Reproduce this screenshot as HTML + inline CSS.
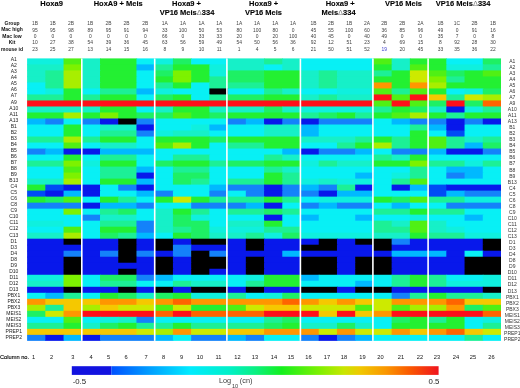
<!DOCTYPE html>
<html><head><meta charset="utf-8"><title>Heatmap</title><style>html,body{margin:0;padding:0;background:#fff;}body{width:520px;height:388px;overflow:hidden;position:relative;font-family:"Liberation Sans",sans-serif;}</style></head><body>
<svg width="520" height="388" viewBox="0 0 520 388" style="position:absolute;left:0;top:0;will-change:transform">
<rect x="0" y="0" width="520" height="388" fill="#ffffff"/>
<rect x="27.10" y="58.40" width="37.15" height="6.71" fill="#0ff0de"/>
<rect x="63.55" y="58.40" width="18.93" height="6.71" fill="#50f014"/>
<rect x="81.78" y="58.40" width="18.93" height="6.71" fill="#16f0c8"/>
<rect x="100.01" y="58.40" width="37.15" height="6.71" fill="#23f032"/>
<rect x="136.46" y="58.40" width="18.93" height="6.71" fill="#08f0f5"/>
<rect x="154.69" y="58.40" width="18.93" height="6.71" fill="#0ff0de"/>
<rect x="172.92" y="58.40" width="18.93" height="6.71" fill="#1ef064"/>
<rect x="191.14" y="58.40" width="37.15" height="6.71" fill="#08f0f5"/>
<rect x="227.60" y="58.40" width="37.15" height="6.71" fill="#16f0c8"/>
<rect x="264.05" y="58.40" width="18.93" height="6.71" fill="#1cf096"/>
<rect x="282.28" y="58.40" width="18.93" height="6.71" fill="#16f0c8"/>
<rect x="300.50" y="58.40" width="73.61" height="6.71" fill="#08f0f5"/>
<rect x="373.41" y="58.40" width="18.93" height="6.71" fill="#50f014"/>
<rect x="391.64" y="58.40" width="18.93" height="6.71" fill="#16f0c8"/>
<rect x="409.87" y="58.40" width="37.15" height="6.71" fill="#23f032"/>
<rect x="446.32" y="58.40" width="37.15" height="6.71" fill="#08f0f5"/>
<rect x="482.77" y="58.40" width="18.23" height="6.71" fill="#1ef064"/>
<rect x="27.10" y="64.41" width="37.15" height="6.71" fill="#16f0c8"/>
<rect x="63.55" y="64.41" width="18.93" height="6.71" fill="#7df200"/>
<rect x="81.78" y="64.41" width="18.93" height="6.71" fill="#16f0c8"/>
<rect x="100.01" y="64.41" width="37.15" height="6.71" fill="#23f032"/>
<rect x="136.46" y="64.41" width="18.93" height="6.71" fill="#00b9ff"/>
<rect x="154.69" y="64.41" width="18.93" height="6.71" fill="#1cf096"/>
<rect x="172.92" y="64.41" width="37.15" height="6.71" fill="#23f032"/>
<rect x="209.37" y="64.41" width="18.93" height="6.71" fill="#0ff0de"/>
<rect x="227.60" y="64.41" width="37.15" height="6.71" fill="#16f0c8"/>
<rect x="264.05" y="64.41" width="18.93" height="6.71" fill="#08f0f5"/>
<rect x="282.28" y="64.41" width="18.93" height="6.71" fill="#16f0c8"/>
<rect x="300.50" y="64.41" width="73.61" height="6.71" fill="#08f0f5"/>
<rect x="373.41" y="64.41" width="18.93" height="6.71" fill="#23f032"/>
<rect x="391.64" y="64.41" width="18.93" height="6.71" fill="#16f0c8"/>
<rect x="409.87" y="64.41" width="18.93" height="6.71" fill="#50f014"/>
<rect x="428.09" y="64.41" width="18.93" height="6.71" fill="#23f032"/>
<rect x="446.32" y="64.41" width="37.15" height="6.71" fill="#0ff0de"/>
<rect x="482.77" y="64.41" width="18.23" height="6.71" fill="#1cf096"/>
<rect x="27.10" y="70.42" width="18.93" height="6.71" fill="#16f0c8"/>
<rect x="45.33" y="70.42" width="18.93" height="6.71" fill="#1cf096"/>
<rect x="63.55" y="70.42" width="18.93" height="6.71" fill="#a8ee00"/>
<rect x="81.78" y="70.42" width="18.93" height="6.71" fill="#16f0c8"/>
<rect x="100.01" y="70.42" width="37.15" height="6.71" fill="#23f032"/>
<rect x="136.46" y="70.42" width="18.93" height="6.71" fill="#08f0f5"/>
<rect x="154.69" y="70.42" width="18.93" height="6.71" fill="#1ef064"/>
<rect x="172.92" y="70.42" width="18.93" height="6.71" fill="#7df200"/>
<rect x="191.14" y="70.42" width="18.93" height="6.71" fill="#23f032"/>
<rect x="209.37" y="70.42" width="18.93" height="6.71" fill="#0ff0de"/>
<rect x="227.60" y="70.42" width="37.15" height="6.71" fill="#1ef064"/>
<rect x="264.05" y="70.42" width="37.15" height="6.71" fill="#23f032"/>
<rect x="300.50" y="70.42" width="18.93" height="6.71" fill="#16f0c8"/>
<rect x="318.73" y="70.42" width="18.93" height="6.71" fill="#1cf096"/>
<rect x="336.96" y="70.42" width="37.15" height="6.71" fill="#16f0c8"/>
<rect x="373.41" y="70.42" width="18.93" height="6.71" fill="#1cf096"/>
<rect x="391.64" y="70.42" width="18.93" height="6.71" fill="#23f032"/>
<rect x="409.87" y="70.42" width="18.93" height="6.71" fill="#cdea00"/>
<rect x="428.09" y="70.42" width="18.93" height="6.71" fill="#50f014"/>
<rect x="446.32" y="70.42" width="18.93" height="6.71" fill="#1ef064"/>
<rect x="464.55" y="70.42" width="18.93" height="6.71" fill="#23f032"/>
<rect x="482.77" y="70.42" width="18.23" height="6.71" fill="#50f014"/>
<rect x="27.10" y="76.43" width="18.93" height="6.71" fill="#16f0c8"/>
<rect x="45.33" y="76.43" width="18.93" height="6.71" fill="#1cf096"/>
<rect x="63.55" y="76.43" width="18.93" height="6.71" fill="#a8ee00"/>
<rect x="81.78" y="76.43" width="18.93" height="6.71" fill="#16f0c8"/>
<rect x="100.01" y="76.43" width="37.15" height="6.71" fill="#23f032"/>
<rect x="136.46" y="76.43" width="18.93" height="6.71" fill="#08f0f5"/>
<rect x="154.69" y="76.43" width="18.93" height="6.71" fill="#23f032"/>
<rect x="172.92" y="76.43" width="18.93" height="6.71" fill="#7df200"/>
<rect x="191.14" y="76.43" width="18.93" height="6.71" fill="#23f032"/>
<rect x="209.37" y="76.43" width="18.93" height="6.71" fill="#1cf096"/>
<rect x="227.60" y="76.43" width="37.15" height="6.71" fill="#1ef064"/>
<rect x="264.05" y="76.43" width="37.15" height="6.71" fill="#23f032"/>
<rect x="300.50" y="76.43" width="18.93" height="6.71" fill="#16f0c8"/>
<rect x="318.73" y="76.43" width="18.93" height="6.71" fill="#1cf096"/>
<rect x="336.96" y="76.43" width="37.15" height="6.71" fill="#16f0c8"/>
<rect x="373.41" y="76.43" width="37.15" height="6.71" fill="#23f032"/>
<rect x="409.87" y="76.43" width="18.93" height="6.71" fill="#cdea00"/>
<rect x="428.09" y="76.43" width="18.93" height="6.71" fill="#7df200"/>
<rect x="446.32" y="76.43" width="18.93" height="6.71" fill="#1cf096"/>
<rect x="464.55" y="76.43" width="36.45" height="6.71" fill="#23f032"/>
<rect x="27.10" y="82.44" width="18.93" height="6.71" fill="#08f0f5"/>
<rect x="45.33" y="82.44" width="18.93" height="6.71" fill="#1cf096"/>
<rect x="63.55" y="82.44" width="18.93" height="6.71" fill="#a8ee00"/>
<rect x="81.78" y="82.44" width="18.93" height="6.71" fill="#16f0c8"/>
<rect x="100.01" y="82.44" width="37.15" height="6.71" fill="#23f032"/>
<rect x="136.46" y="82.44" width="18.93" height="6.71" fill="#08f0f5"/>
<rect x="154.69" y="82.44" width="18.93" height="6.71" fill="#1cf096"/>
<rect x="172.92" y="82.44" width="18.93" height="6.71" fill="#23f032"/>
<rect x="191.14" y="82.44" width="18.93" height="6.71" fill="#08f0f5"/>
<rect x="209.37" y="82.44" width="55.38" height="6.71" fill="#1cf096"/>
<rect x="264.05" y="82.44" width="37.15" height="6.71" fill="#23f032"/>
<rect x="300.50" y="82.44" width="18.93" height="6.71" fill="#16f0c8"/>
<rect x="318.73" y="82.44" width="18.93" height="6.71" fill="#1cf096"/>
<rect x="336.96" y="82.44" width="37.15" height="6.71" fill="#16f0c8"/>
<rect x="373.41" y="82.44" width="18.93" height="6.71" fill="#ff9600"/>
<rect x="391.64" y="82.44" width="18.93" height="6.71" fill="#23f032"/>
<rect x="409.87" y="82.44" width="18.93" height="6.71" fill="#ff9600"/>
<rect x="428.09" y="82.44" width="18.93" height="6.71" fill="#a8ee00"/>
<rect x="446.32" y="82.44" width="54.68" height="6.71" fill="#23f032"/>
<rect x="27.10" y="88.45" width="18.93" height="6.71" fill="#08f0f5"/>
<rect x="45.33" y="88.45" width="18.93" height="6.71" fill="#0ff0de"/>
<rect x="63.55" y="88.45" width="18.93" height="6.71" fill="#23f032"/>
<rect x="81.78" y="88.45" width="18.93" height="6.71" fill="#08f0f5"/>
<rect x="100.01" y="88.45" width="37.15" height="6.71" fill="#1cf096"/>
<rect x="136.46" y="88.45" width="18.93" height="6.71" fill="#00b9ff"/>
<rect x="154.69" y="88.45" width="18.93" height="6.71" fill="#0ff0de"/>
<rect x="172.92" y="88.45" width="37.15" height="6.71" fill="#08f0f5"/>
<rect x="209.37" y="88.45" width="18.93" height="6.71" fill="#000000"/>
<rect x="227.60" y="88.45" width="37.15" height="6.71" fill="#08f0f5"/>
<rect x="264.05" y="88.45" width="18.93" height="6.71" fill="#1cf096"/>
<rect x="282.28" y="88.45" width="18.93" height="6.71" fill="#16f0c8"/>
<rect x="300.50" y="88.45" width="37.15" height="6.71" fill="#08f0f5"/>
<rect x="336.96" y="88.45" width="37.15" height="6.71" fill="#0ff0de"/>
<rect x="373.41" y="88.45" width="18.93" height="6.71" fill="#50f014"/>
<rect x="391.64" y="88.45" width="18.93" height="6.71" fill="#1cf096"/>
<rect x="409.87" y="88.45" width="18.93" height="6.71" fill="#50f014"/>
<rect x="428.09" y="88.45" width="18.93" height="6.71" fill="#23f032"/>
<rect x="446.32" y="88.45" width="18.93" height="6.71" fill="#08f0f5"/>
<rect x="464.55" y="88.45" width="18.93" height="6.71" fill="#0ff0de"/>
<rect x="482.77" y="88.45" width="18.23" height="6.71" fill="#1ef064"/>
<rect x="27.10" y="94.46" width="37.15" height="6.71" fill="#1cf096"/>
<rect x="63.55" y="94.46" width="18.93" height="6.71" fill="#23f032"/>
<rect x="81.78" y="94.46" width="18.93" height="6.71" fill="#1cf096"/>
<rect x="100.01" y="94.46" width="37.15" height="6.71" fill="#23f032"/>
<rect x="136.46" y="94.46" width="18.93" height="6.71" fill="#08f0f5"/>
<rect x="154.69" y="94.46" width="18.93" height="6.71" fill="#1ef064"/>
<rect x="172.92" y="94.46" width="18.93" height="6.71" fill="#23f032"/>
<rect x="191.14" y="94.46" width="18.93" height="6.71" fill="#08f0f5"/>
<rect x="209.37" y="94.46" width="18.93" height="6.71" fill="#1cf096"/>
<rect x="227.60" y="94.46" width="37.15" height="6.71" fill="#1ef064"/>
<rect x="264.05" y="94.46" width="37.15" height="6.71" fill="#23f032"/>
<rect x="300.50" y="94.46" width="18.93" height="6.71" fill="#16f0c8"/>
<rect x="318.73" y="94.46" width="18.93" height="6.71" fill="#1cf096"/>
<rect x="336.96" y="94.46" width="37.15" height="6.71" fill="#16f0c8"/>
<rect x="373.41" y="94.46" width="18.93" height="6.71" fill="#ff0f19"/>
<rect x="391.64" y="94.46" width="18.93" height="6.71" fill="#50f014"/>
<rect x="409.87" y="94.46" width="18.93" height="6.71" fill="#ff0f19"/>
<rect x="428.09" y="94.46" width="18.93" height="6.71" fill="#f5c800"/>
<rect x="446.32" y="94.46" width="18.93" height="6.71" fill="#1cf096"/>
<rect x="464.55" y="94.46" width="18.93" height="6.71" fill="#cdea00"/>
<rect x="482.77" y="94.46" width="18.23" height="6.71" fill="#a8ee00"/>
<rect x="27.10" y="100.47" width="347.01" height="6.71" fill="#ff0f19"/>
<rect x="373.41" y="100.47" width="18.93" height="6.71" fill="#50f014"/>
<rect x="391.64" y="100.47" width="18.93" height="6.71" fill="#ff0f19"/>
<rect x="409.87" y="100.47" width="18.93" height="6.71" fill="#50f014"/>
<rect x="428.09" y="100.47" width="18.93" height="6.71" fill="#1ef064"/>
<rect x="446.32" y="100.47" width="18.93" height="6.71" fill="#ff0f19"/>
<rect x="464.55" y="100.47" width="18.93" height="6.71" fill="#1ef064"/>
<rect x="482.77" y="100.47" width="18.23" height="6.71" fill="#ff6400"/>
<rect x="27.10" y="106.48" width="73.61" height="6.71" fill="#16f0c8"/>
<rect x="100.01" y="106.48" width="37.15" height="6.71" fill="#23f032"/>
<rect x="136.46" y="106.48" width="18.93" height="6.71" fill="#08f0f5"/>
<rect x="154.69" y="106.48" width="18.93" height="6.71" fill="#16f0c8"/>
<rect x="172.92" y="106.48" width="37.15" height="6.71" fill="#23f032"/>
<rect x="209.37" y="106.48" width="55.38" height="6.71" fill="#16f0c8"/>
<rect x="264.05" y="106.48" width="18.93" height="6.71" fill="#1ef064"/>
<rect x="282.28" y="106.48" width="18.93" height="6.71" fill="#16f0c8"/>
<rect x="300.50" y="106.48" width="73.61" height="6.71" fill="#0ff0de"/>
<rect x="373.41" y="106.48" width="18.93" height="6.71" fill="#1cf096"/>
<rect x="391.64" y="106.48" width="18.93" height="6.71" fill="#23f032"/>
<rect x="409.87" y="106.48" width="18.93" height="6.71" fill="#1ef064"/>
<rect x="428.09" y="106.48" width="18.93" height="6.71" fill="#16f0c8"/>
<rect x="446.32" y="106.48" width="18.93" height="6.71" fill="#0818eb"/>
<rect x="464.55" y="106.48" width="18.93" height="6.71" fill="#0ff0de"/>
<rect x="482.77" y="106.48" width="18.23" height="6.71" fill="#1cf096"/>
<rect x="27.10" y="112.49" width="37.15" height="6.71" fill="#23f032"/>
<rect x="63.55" y="112.49" width="18.93" height="6.71" fill="#a8ee00"/>
<rect x="81.78" y="112.49" width="18.93" height="6.71" fill="#23f032"/>
<rect x="100.01" y="112.49" width="18.93" height="6.71" fill="#7df200"/>
<rect x="118.23" y="112.49" width="18.93" height="6.71" fill="#23f032"/>
<rect x="136.46" y="112.49" width="37.15" height="6.71" fill="#1ef064"/>
<rect x="172.92" y="112.49" width="18.93" height="6.71" fill="#50f014"/>
<rect x="191.14" y="112.49" width="18.93" height="6.71" fill="#23f032"/>
<rect x="209.37" y="112.49" width="18.93" height="6.71" fill="#1ef064"/>
<rect x="227.60" y="112.49" width="73.61" height="6.71" fill="#23f032"/>
<rect x="300.50" y="112.49" width="18.93" height="6.71" fill="#1cf096"/>
<rect x="318.73" y="112.49" width="18.93" height="6.71" fill="#1ef064"/>
<rect x="336.96" y="112.49" width="18.93" height="6.71" fill="#23f032"/>
<rect x="355.18" y="112.49" width="18.93" height="6.71" fill="#1cf096"/>
<rect x="373.41" y="112.49" width="18.93" height="6.71" fill="#23f032"/>
<rect x="391.64" y="112.49" width="18.93" height="6.71" fill="#50f014"/>
<rect x="409.87" y="112.49" width="18.93" height="6.71" fill="#a8ee00"/>
<rect x="428.09" y="112.49" width="18.93" height="6.71" fill="#23f032"/>
<rect x="446.32" y="112.49" width="18.93" height="6.71" fill="#1cf096"/>
<rect x="464.55" y="112.49" width="36.45" height="6.71" fill="#23f032"/>
<rect x="27.10" y="118.50" width="18.93" height="6.71" fill="#00b9ff"/>
<rect x="45.33" y="118.50" width="18.93" height="6.71" fill="#1482fa"/>
<rect x="63.55" y="118.50" width="18.93" height="6.71" fill="#08f0f5"/>
<rect x="81.78" y="118.50" width="18.93" height="6.71" fill="#1482fa"/>
<rect x="100.01" y="118.50" width="18.93" height="6.71" fill="#0818eb"/>
<rect x="118.23" y="118.50" width="18.93" height="6.71" fill="#000000"/>
<rect x="136.46" y="118.50" width="18.93" height="6.71" fill="#1482fa"/>
<rect x="154.69" y="118.50" width="73.61" height="6.71" fill="#08f0f5"/>
<rect x="227.60" y="118.50" width="18.93" height="6.71" fill="#1482fa"/>
<rect x="245.82" y="118.50" width="18.93" height="6.71" fill="#00b9ff"/>
<rect x="264.05" y="118.50" width="18.93" height="6.71" fill="#0818eb"/>
<rect x="282.28" y="118.50" width="18.93" height="6.71" fill="#1482fa"/>
<rect x="300.50" y="118.50" width="18.93" height="6.71" fill="#0818eb"/>
<rect x="318.73" y="118.50" width="55.38" height="6.71" fill="#1482fa"/>
<rect x="373.41" y="118.50" width="18.93" height="6.71" fill="#08f0f5"/>
<rect x="391.64" y="118.50" width="18.93" height="6.71" fill="#00b9ff"/>
<rect x="409.87" y="118.50" width="37.15" height="6.71" fill="#1482fa"/>
<rect x="446.32" y="118.50" width="18.93" height="6.71" fill="#0818eb"/>
<rect x="464.55" y="118.50" width="18.93" height="6.71" fill="#1482fa"/>
<rect x="482.77" y="118.50" width="18.23" height="6.71" fill="#0818eb"/>
<rect x="27.10" y="124.51" width="37.15" height="6.71" fill="#08f0f5"/>
<rect x="63.55" y="124.51" width="18.93" height="6.71" fill="#23f032"/>
<rect x="81.78" y="124.51" width="18.93" height="6.71" fill="#08f0f5"/>
<rect x="100.01" y="124.51" width="37.15" height="6.71" fill="#16f0c8"/>
<rect x="136.46" y="124.51" width="18.93" height="6.71" fill="#0818eb"/>
<rect x="154.69" y="124.51" width="37.15" height="6.71" fill="#08f0f5"/>
<rect x="191.14" y="124.51" width="18.93" height="6.71" fill="#0ff0de"/>
<rect x="209.37" y="124.51" width="18.93" height="6.71" fill="#00b9ff"/>
<rect x="227.60" y="124.51" width="37.15" height="6.71" fill="#08f0f5"/>
<rect x="264.05" y="124.51" width="37.15" height="6.71" fill="#16f0c8"/>
<rect x="300.50" y="124.51" width="18.93" height="6.71" fill="#00b9ff"/>
<rect x="318.73" y="124.51" width="91.83" height="6.71" fill="#08f0f5"/>
<rect x="409.87" y="124.51" width="18.93" height="6.71" fill="#1cf096"/>
<rect x="428.09" y="124.51" width="18.93" height="6.71" fill="#00b9ff"/>
<rect x="446.32" y="124.51" width="18.93" height="6.71" fill="#0818eb"/>
<rect x="464.55" y="124.51" width="36.45" height="6.71" fill="#08f0f5"/>
<rect x="27.10" y="130.52" width="37.15" height="6.71" fill="#08f0f5"/>
<rect x="63.55" y="130.52" width="18.93" height="6.71" fill="#23f032"/>
<rect x="81.78" y="130.52" width="18.93" height="6.71" fill="#08f0f5"/>
<rect x="100.01" y="130.52" width="37.15" height="6.71" fill="#1cf096"/>
<rect x="136.46" y="130.52" width="18.93" height="6.71" fill="#1482fa"/>
<rect x="154.69" y="130.52" width="18.93" height="6.71" fill="#0ff0de"/>
<rect x="172.92" y="130.52" width="37.15" height="6.71" fill="#16f0c8"/>
<rect x="209.37" y="130.52" width="55.38" height="6.71" fill="#08f0f5"/>
<rect x="264.05" y="130.52" width="37.15" height="6.71" fill="#16f0c8"/>
<rect x="300.50" y="130.52" width="18.93" height="6.71" fill="#00b9ff"/>
<rect x="318.73" y="130.52" width="91.83" height="6.71" fill="#08f0f5"/>
<rect x="409.87" y="130.52" width="18.93" height="6.71" fill="#23f032"/>
<rect x="428.09" y="130.52" width="18.93" height="6.71" fill="#08f0f5"/>
<rect x="446.32" y="130.52" width="18.93" height="6.71" fill="#004bf5"/>
<rect x="464.55" y="130.52" width="36.45" height="6.71" fill="#08f0f5"/>
<rect x="27.10" y="136.53" width="37.15" height="6.71" fill="#1cf096"/>
<rect x="63.55" y="136.53" width="18.93" height="6.71" fill="#a8ee00"/>
<rect x="81.78" y="136.53" width="18.93" height="6.71" fill="#1cf096"/>
<rect x="100.01" y="136.53" width="37.15" height="6.71" fill="#23f032"/>
<rect x="136.46" y="136.53" width="18.93" height="6.71" fill="#08f0f5"/>
<rect x="154.69" y="136.53" width="55.38" height="6.71" fill="#23f032"/>
<rect x="209.37" y="136.53" width="18.93" height="6.71" fill="#1ef064"/>
<rect x="227.60" y="136.53" width="73.61" height="6.71" fill="#23f032"/>
<rect x="300.50" y="136.53" width="55.38" height="6.71" fill="#16f0c8"/>
<rect x="355.18" y="136.53" width="18.93" height="6.71" fill="#1cf096"/>
<rect x="373.41" y="136.53" width="18.93" height="6.71" fill="#23f032"/>
<rect x="391.64" y="136.53" width="18.93" height="6.71" fill="#1cf096"/>
<rect x="409.87" y="136.53" width="18.93" height="6.71" fill="#23f032"/>
<rect x="428.09" y="136.53" width="18.93" height="6.71" fill="#50f014"/>
<rect x="446.32" y="136.53" width="18.93" height="6.71" fill="#1cf096"/>
<rect x="464.55" y="136.53" width="18.93" height="6.71" fill="#16f0c8"/>
<rect x="482.77" y="136.53" width="18.23" height="6.71" fill="#1cf096"/>
<rect x="27.10" y="142.54" width="37.15" height="6.71" fill="#08f0f5"/>
<rect x="63.55" y="142.54" width="18.93" height="6.71" fill="#50f014"/>
<rect x="81.78" y="142.54" width="18.93" height="6.71" fill="#08f0f5"/>
<rect x="100.01" y="142.54" width="37.15" height="6.71" fill="#16f0c8"/>
<rect x="136.46" y="142.54" width="18.93" height="6.71" fill="#08f0f5"/>
<rect x="154.69" y="142.54" width="18.93" height="6.71" fill="#50f014"/>
<rect x="172.92" y="142.54" width="18.93" height="6.71" fill="#a8ee00"/>
<rect x="191.14" y="142.54" width="18.93" height="6.71" fill="#23f032"/>
<rect x="209.37" y="142.54" width="18.93" height="6.71" fill="#08f0f5"/>
<rect x="227.60" y="142.54" width="37.15" height="6.71" fill="#1cf096"/>
<rect x="264.05" y="142.54" width="37.15" height="6.71" fill="#23f032"/>
<rect x="300.50" y="142.54" width="37.15" height="6.71" fill="#08f0f5"/>
<rect x="336.96" y="142.54" width="18.93" height="6.71" fill="#1cf096"/>
<rect x="355.18" y="142.54" width="18.93" height="6.71" fill="#23f032"/>
<rect x="373.41" y="142.54" width="18.93" height="6.71" fill="#a8ee00"/>
<rect x="391.64" y="142.54" width="18.93" height="6.71" fill="#1cf096"/>
<rect x="409.87" y="142.54" width="18.93" height="6.71" fill="#23f032"/>
<rect x="428.09" y="142.54" width="18.93" height="6.71" fill="#50f014"/>
<rect x="446.32" y="142.54" width="18.93" height="6.71" fill="#1cf096"/>
<rect x="464.55" y="142.54" width="18.93" height="6.71" fill="#00b9ff"/>
<rect x="482.77" y="142.54" width="18.23" height="6.71" fill="#1ef064"/>
<rect x="27.10" y="148.55" width="18.93" height="6.71" fill="#1482fa"/>
<rect x="45.33" y="148.55" width="18.93" height="6.71" fill="#00b9ff"/>
<rect x="63.55" y="148.55" width="37.15" height="6.71" fill="#0818eb"/>
<rect x="100.01" y="148.55" width="55.38" height="6.71" fill="#00b9ff"/>
<rect x="154.69" y="148.55" width="128.29" height="6.71" fill="#08f0f5"/>
<rect x="282.28" y="148.55" width="18.93" height="6.71" fill="#00b9ff"/>
<rect x="300.50" y="148.55" width="18.93" height="6.71" fill="#0818eb"/>
<rect x="318.73" y="148.55" width="37.15" height="6.71" fill="#1482fa"/>
<rect x="355.18" y="148.55" width="18.93" height="6.71" fill="#00b9ff"/>
<rect x="373.41" y="148.55" width="18.93" height="6.71" fill="#08f0f5"/>
<rect x="391.64" y="148.55" width="37.15" height="6.71" fill="#1482fa"/>
<rect x="428.09" y="148.55" width="18.93" height="6.71" fill="#00b9ff"/>
<rect x="446.32" y="148.55" width="37.15" height="6.71" fill="#0818eb"/>
<rect x="482.77" y="148.55" width="18.23" height="6.71" fill="#1482fa"/>
<rect x="27.10" y="154.56" width="37.15" height="6.71" fill="#08f0f5"/>
<rect x="63.55" y="154.56" width="18.93" height="6.71" fill="#23f032"/>
<rect x="81.78" y="154.56" width="18.93" height="6.71" fill="#08f0f5"/>
<rect x="100.01" y="154.56" width="37.15" height="6.71" fill="#1cf096"/>
<rect x="136.46" y="154.56" width="37.15" height="6.71" fill="#08f0f5"/>
<rect x="172.92" y="154.56" width="37.15" height="6.71" fill="#1cf096"/>
<rect x="209.37" y="154.56" width="55.38" height="6.71" fill="#08f0f5"/>
<rect x="264.05" y="154.56" width="18.93" height="6.71" fill="#1cf096"/>
<rect x="282.28" y="154.56" width="18.93" height="6.71" fill="#16f0c8"/>
<rect x="300.50" y="154.56" width="73.61" height="6.71" fill="#08f0f5"/>
<rect x="373.41" y="154.56" width="18.93" height="6.71" fill="#1cf096"/>
<rect x="391.64" y="154.56" width="18.93" height="6.71" fill="#16f0c8"/>
<rect x="409.87" y="154.56" width="18.93" height="6.71" fill="#23f032"/>
<rect x="428.09" y="154.56" width="72.91" height="6.71" fill="#08f0f5"/>
<rect x="27.10" y="160.57" width="37.15" height="6.71" fill="#1cf096"/>
<rect x="63.55" y="160.57" width="18.93" height="6.71" fill="#7df200"/>
<rect x="81.78" y="160.57" width="18.93" height="6.71" fill="#0ff0de"/>
<rect x="100.01" y="160.57" width="37.15" height="6.71" fill="#23f032"/>
<rect x="136.46" y="160.57" width="18.93" height="6.71" fill="#08f0f5"/>
<rect x="154.69" y="160.57" width="18.93" height="6.71" fill="#1ef064"/>
<rect x="172.92" y="160.57" width="37.15" height="6.71" fill="#23f032"/>
<rect x="209.37" y="160.57" width="18.93" height="6.71" fill="#1cf096"/>
<rect x="227.60" y="160.57" width="37.15" height="6.71" fill="#1ef064"/>
<rect x="264.05" y="160.57" width="37.15" height="6.71" fill="#23f032"/>
<rect x="300.50" y="160.57" width="18.93" height="6.71" fill="#0ff0de"/>
<rect x="318.73" y="160.57" width="18.93" height="6.71" fill="#1cf096"/>
<rect x="336.96" y="160.57" width="37.15" height="6.71" fill="#16f0c8"/>
<rect x="373.41" y="160.57" width="37.15" height="6.71" fill="#23f032"/>
<rect x="409.87" y="160.57" width="18.93" height="6.71" fill="#7df200"/>
<rect x="428.09" y="160.57" width="37.15" height="6.71" fill="#1cf096"/>
<rect x="464.55" y="160.57" width="18.93" height="6.71" fill="#0ff0de"/>
<rect x="482.77" y="160.57" width="18.23" height="6.71" fill="#1cf096"/>
<rect x="27.10" y="166.58" width="37.15" height="6.71" fill="#08f0f5"/>
<rect x="63.55" y="166.58" width="18.93" height="6.71" fill="#50f014"/>
<rect x="81.78" y="166.58" width="18.93" height="6.71" fill="#08f0f5"/>
<rect x="100.01" y="166.58" width="37.15" height="6.71" fill="#1cf096"/>
<rect x="136.46" y="166.58" width="18.93" height="6.71" fill="#00b9ff"/>
<rect x="154.69" y="166.58" width="18.93" height="6.71" fill="#08f0f5"/>
<rect x="172.92" y="166.58" width="37.15" height="6.71" fill="#1cf096"/>
<rect x="209.37" y="166.58" width="55.38" height="6.71" fill="#08f0f5"/>
<rect x="264.05" y="166.58" width="18.93" height="6.71" fill="#1cf096"/>
<rect x="282.28" y="166.58" width="18.93" height="6.71" fill="#16f0c8"/>
<rect x="300.50" y="166.58" width="110.06" height="6.71" fill="#08f0f5"/>
<rect x="409.87" y="166.58" width="18.93" height="6.71" fill="#1cf096"/>
<rect x="428.09" y="166.58" width="18.93" height="6.71" fill="#08f0f5"/>
<rect x="446.32" y="166.58" width="37.15" height="6.71" fill="#00b9ff"/>
<rect x="482.77" y="166.58" width="18.23" height="6.71" fill="#08f0f5"/>
<rect x="27.10" y="172.59" width="37.15" height="6.71" fill="#08f0f5"/>
<rect x="63.55" y="172.59" width="18.93" height="6.71" fill="#7df200"/>
<rect x="81.78" y="172.59" width="18.93" height="6.71" fill="#08f0f5"/>
<rect x="100.01" y="172.59" width="37.15" height="6.71" fill="#1cf096"/>
<rect x="136.46" y="172.59" width="18.93" height="6.71" fill="#0818eb"/>
<rect x="154.69" y="172.59" width="18.93" height="6.71" fill="#08f0f5"/>
<rect x="172.92" y="172.59" width="37.15" height="6.71" fill="#1ef064"/>
<rect x="209.37" y="172.59" width="55.38" height="6.71" fill="#08f0f5"/>
<rect x="264.05" y="172.59" width="18.93" height="6.71" fill="#23f032"/>
<rect x="282.28" y="172.59" width="18.93" height="6.71" fill="#1cf096"/>
<rect x="300.50" y="172.59" width="55.38" height="6.71" fill="#08f0f5"/>
<rect x="355.18" y="172.59" width="18.93" height="6.71" fill="#00b9ff"/>
<rect x="373.41" y="172.59" width="18.93" height="6.71" fill="#08f0f5"/>
<rect x="391.64" y="172.59" width="18.93" height="6.71" fill="#0ff0de"/>
<rect x="409.87" y="172.59" width="18.93" height="6.71" fill="#1cf096"/>
<rect x="428.09" y="172.59" width="18.93" height="6.71" fill="#08f0f5"/>
<rect x="446.32" y="172.59" width="18.93" height="6.71" fill="#1482fa"/>
<rect x="464.55" y="172.59" width="18.93" height="6.71" fill="#00b9ff"/>
<rect x="482.77" y="172.59" width="18.23" height="6.71" fill="#08f0f5"/>
<rect x="27.10" y="178.60" width="37.15" height="6.71" fill="#16f0c8"/>
<rect x="63.55" y="178.60" width="18.93" height="6.71" fill="#a8ee00"/>
<rect x="81.78" y="178.60" width="18.93" height="6.71" fill="#08f0f5"/>
<rect x="100.01" y="178.60" width="37.15" height="6.71" fill="#23f032"/>
<rect x="136.46" y="178.60" width="18.93" height="6.71" fill="#00b9ff"/>
<rect x="154.69" y="178.60" width="18.93" height="6.71" fill="#08f0f5"/>
<rect x="172.92" y="178.60" width="18.93" height="6.71" fill="#1ef064"/>
<rect x="191.14" y="178.60" width="18.93" height="6.71" fill="#1cf096"/>
<rect x="209.37" y="178.60" width="18.93" height="6.71" fill="#08f0f5"/>
<rect x="227.60" y="178.60" width="37.15" height="6.71" fill="#1cf096"/>
<rect x="264.05" y="178.60" width="18.93" height="6.71" fill="#23f032"/>
<rect x="282.28" y="178.60" width="18.93" height="6.71" fill="#1cf096"/>
<rect x="300.50" y="178.60" width="18.93" height="6.71" fill="#0ff0de"/>
<rect x="318.73" y="178.60" width="18.93" height="6.71" fill="#16f0c8"/>
<rect x="336.96" y="178.60" width="37.15" height="6.71" fill="#0ff0de"/>
<rect x="373.41" y="178.60" width="18.93" height="6.71" fill="#08f0f5"/>
<rect x="391.64" y="178.60" width="18.93" height="6.71" fill="#1cf096"/>
<rect x="409.87" y="178.60" width="18.93" height="6.71" fill="#50f014"/>
<rect x="428.09" y="178.60" width="72.91" height="6.71" fill="#08f0f5"/>
<rect x="27.10" y="184.61" width="18.93" height="6.71" fill="#23f032"/>
<rect x="45.33" y="184.61" width="18.93" height="6.71" fill="#004bf5"/>
<rect x="63.55" y="184.61" width="37.15" height="6.71" fill="#0818eb"/>
<rect x="100.01" y="184.61" width="18.93" height="6.71" fill="#08f0f5"/>
<rect x="118.23" y="184.61" width="18.93" height="6.71" fill="#1482fa"/>
<rect x="136.46" y="184.61" width="18.93" height="6.71" fill="#0818eb"/>
<rect x="154.69" y="184.61" width="55.38" height="6.71" fill="#08f0f5"/>
<rect x="209.37" y="184.61" width="18.93" height="6.71" fill="#00b9ff"/>
<rect x="227.60" y="184.61" width="37.15" height="6.71" fill="#1482fa"/>
<rect x="264.05" y="184.61" width="18.93" height="6.71" fill="#0818eb"/>
<rect x="282.28" y="184.61" width="18.93" height="6.71" fill="#1482fa"/>
<rect x="300.50" y="184.61" width="18.93" height="6.71" fill="#00b9ff"/>
<rect x="318.73" y="184.61" width="18.93" height="6.71" fill="#1482fa"/>
<rect x="336.96" y="184.61" width="18.93" height="6.71" fill="#1cf096"/>
<rect x="355.18" y="184.61" width="18.93" height="6.71" fill="#0818eb"/>
<rect x="373.41" y="184.61" width="18.93" height="6.71" fill="#08f0f5"/>
<rect x="391.64" y="184.61" width="18.93" height="6.71" fill="#0818eb"/>
<rect x="409.87" y="184.61" width="18.93" height="6.71" fill="#00b9ff"/>
<rect x="428.09" y="184.61" width="18.93" height="6.71" fill="#004bf5"/>
<rect x="446.32" y="184.61" width="54.68" height="6.71" fill="#0818eb"/>
<rect x="27.10" y="190.62" width="18.93" height="6.71" fill="#004bf5"/>
<rect x="45.33" y="190.62" width="18.93" height="6.71" fill="#0818eb"/>
<rect x="63.55" y="190.62" width="18.93" height="6.71" fill="#00b9ff"/>
<rect x="81.78" y="190.62" width="18.93" height="6.71" fill="#0818eb"/>
<rect x="100.01" y="190.62" width="37.15" height="6.71" fill="#08f0f5"/>
<rect x="136.46" y="190.62" width="18.93" height="6.71" fill="#00b9ff"/>
<rect x="154.69" y="190.62" width="18.93" height="6.71" fill="#1482fa"/>
<rect x="172.92" y="190.62" width="37.15" height="6.71" fill="#08f0f5"/>
<rect x="209.37" y="190.62" width="18.93" height="6.71" fill="#1482fa"/>
<rect x="227.60" y="190.62" width="18.93" height="6.71" fill="#08f0f5"/>
<rect x="245.82" y="190.62" width="18.93" height="6.71" fill="#1482fa"/>
<rect x="264.05" y="190.62" width="18.93" height="6.71" fill="#0818eb"/>
<rect x="282.28" y="190.62" width="37.15" height="6.71" fill="#1482fa"/>
<rect x="318.73" y="190.62" width="18.93" height="6.71" fill="#0818eb"/>
<rect x="336.96" y="190.62" width="37.15" height="6.71" fill="#00b9ff"/>
<rect x="373.41" y="190.62" width="55.38" height="6.71" fill="#08f0f5"/>
<rect x="428.09" y="190.62" width="18.93" height="6.71" fill="#004bf5"/>
<rect x="446.32" y="190.62" width="18.93" height="6.71" fill="#00b9ff"/>
<rect x="464.55" y="190.62" width="36.45" height="6.71" fill="#1482fa"/>
<rect x="27.10" y="196.63" width="18.93" height="6.71" fill="#23f032"/>
<rect x="45.33" y="196.63" width="18.93" height="6.71" fill="#1ef064"/>
<rect x="63.55" y="196.63" width="18.93" height="6.71" fill="#50f014"/>
<rect x="81.78" y="196.63" width="18.93" height="6.71" fill="#08f0f5"/>
<rect x="100.01" y="196.63" width="18.93" height="6.71" fill="#23f032"/>
<rect x="118.23" y="196.63" width="18.93" height="6.71" fill="#1cf096"/>
<rect x="136.46" y="196.63" width="18.93" height="6.71" fill="#08f0f5"/>
<rect x="154.69" y="196.63" width="18.93" height="6.71" fill="#23f032"/>
<rect x="172.92" y="196.63" width="18.93" height="6.71" fill="#cdea00"/>
<rect x="191.14" y="196.63" width="18.93" height="6.71" fill="#23f032"/>
<rect x="209.37" y="196.63" width="55.38" height="6.71" fill="#1cf096"/>
<rect x="264.05" y="196.63" width="18.93" height="6.71" fill="#23f032"/>
<rect x="282.28" y="196.63" width="18.93" height="6.71" fill="#1cf096"/>
<rect x="300.50" y="196.63" width="18.93" height="6.71" fill="#08f0f5"/>
<rect x="318.73" y="196.63" width="55.38" height="6.71" fill="#0ff0de"/>
<rect x="373.41" y="196.63" width="18.93" height="6.71" fill="#23f032"/>
<rect x="391.64" y="196.63" width="18.93" height="6.71" fill="#1ef064"/>
<rect x="409.87" y="196.63" width="18.93" height="6.71" fill="#50f014"/>
<rect x="428.09" y="196.63" width="37.15" height="6.71" fill="#1cf096"/>
<rect x="464.55" y="196.63" width="36.45" height="6.71" fill="#0ff0de"/>
<rect x="27.10" y="202.64" width="55.38" height="6.71" fill="#1482fa"/>
<rect x="81.78" y="202.64" width="18.93" height="6.71" fill="#0818eb"/>
<rect x="100.01" y="202.64" width="37.15" height="6.71" fill="#00b9ff"/>
<rect x="136.46" y="202.64" width="18.93" height="6.71" fill="#1482fa"/>
<rect x="154.69" y="202.64" width="37.15" height="6.71" fill="#08f0f5"/>
<rect x="191.14" y="202.64" width="55.38" height="6.71" fill="#1482fa"/>
<rect x="245.82" y="202.64" width="18.93" height="6.71" fill="#00b9ff"/>
<rect x="264.05" y="202.64" width="18.93" height="6.71" fill="#0818eb"/>
<rect x="282.28" y="202.64" width="18.93" height="6.71" fill="#08f0f5"/>
<rect x="300.50" y="202.64" width="18.93" height="6.71" fill="#1482fa"/>
<rect x="318.73" y="202.64" width="18.93" height="6.71" fill="#00b9ff"/>
<rect x="336.96" y="202.64" width="37.15" height="6.71" fill="#1482fa"/>
<rect x="373.41" y="202.64" width="18.93" height="6.71" fill="#08f0f5"/>
<rect x="391.64" y="202.64" width="18.93" height="6.71" fill="#00b9ff"/>
<rect x="409.87" y="202.64" width="37.15" height="6.71" fill="#08f0f5"/>
<rect x="446.32" y="202.64" width="54.68" height="6.71" fill="#1482fa"/>
<rect x="27.10" y="208.65" width="37.15" height="6.71" fill="#08f0f5"/>
<rect x="63.55" y="208.65" width="18.93" height="6.71" fill="#7df200"/>
<rect x="81.78" y="208.65" width="18.93" height="6.71" fill="#08f0f5"/>
<rect x="100.01" y="208.65" width="18.93" height="6.71" fill="#1cf096"/>
<rect x="118.23" y="208.65" width="18.93" height="6.71" fill="#1ef064"/>
<rect x="136.46" y="208.65" width="18.93" height="6.71" fill="#08f0f5"/>
<rect x="154.69" y="208.65" width="18.93" height="6.71" fill="#16f0c8"/>
<rect x="172.92" y="208.65" width="18.93" height="6.71" fill="#23f032"/>
<rect x="191.14" y="208.65" width="18.93" height="6.71" fill="#1cf096"/>
<rect x="209.37" y="208.65" width="18.93" height="6.71" fill="#08f0f5"/>
<rect x="227.60" y="208.65" width="37.15" height="6.71" fill="#1cf096"/>
<rect x="264.05" y="208.65" width="18.93" height="6.71" fill="#1ef064"/>
<rect x="282.28" y="208.65" width="18.93" height="6.71" fill="#1cf096"/>
<rect x="300.50" y="208.65" width="73.61" height="6.71" fill="#08f0f5"/>
<rect x="373.41" y="208.65" width="37.15" height="6.71" fill="#1cf096"/>
<rect x="409.87" y="208.65" width="18.93" height="6.71" fill="#23f032"/>
<rect x="428.09" y="208.65" width="37.15" height="6.71" fill="#1cf096"/>
<rect x="464.55" y="208.65" width="36.45" height="6.71" fill="#08f0f5"/>
<rect x="27.10" y="214.66" width="55.38" height="6.71" fill="#08f0f5"/>
<rect x="81.78" y="214.66" width="18.93" height="6.71" fill="#1482fa"/>
<rect x="100.01" y="214.66" width="37.15" height="6.71" fill="#16f0c8"/>
<rect x="136.46" y="214.66" width="18.93" height="6.71" fill="#08f0f5"/>
<rect x="154.69" y="214.66" width="18.93" height="6.71" fill="#16f0c8"/>
<rect x="172.92" y="214.66" width="18.93" height="6.71" fill="#1ef064"/>
<rect x="191.14" y="214.66" width="18.93" height="6.71" fill="#0ff0de"/>
<rect x="209.37" y="214.66" width="55.38" height="6.71" fill="#08f0f5"/>
<rect x="264.05" y="214.66" width="18.93" height="6.71" fill="#0818eb"/>
<rect x="282.28" y="214.66" width="18.93" height="6.71" fill="#08f0f5"/>
<rect x="300.50" y="214.66" width="18.93" height="6.71" fill="#00b9ff"/>
<rect x="318.73" y="214.66" width="37.15" height="6.71" fill="#08f0f5"/>
<rect x="355.18" y="214.66" width="18.93" height="6.71" fill="#00b9ff"/>
<rect x="373.41" y="214.66" width="37.15" height="6.71" fill="#08f0f5"/>
<rect x="409.87" y="214.66" width="18.93" height="6.71" fill="#0ff0de"/>
<rect x="428.09" y="214.66" width="37.15" height="6.71" fill="#08f0f5"/>
<rect x="464.55" y="214.66" width="18.93" height="6.71" fill="#00b9ff"/>
<rect x="482.77" y="214.66" width="18.23" height="6.71" fill="#08f0f5"/>
<rect x="27.10" y="220.67" width="37.15" height="6.71" fill="#0ff0de"/>
<rect x="63.55" y="220.67" width="37.15" height="6.71" fill="#08f0f5"/>
<rect x="100.01" y="220.67" width="37.15" height="6.71" fill="#1cf096"/>
<rect x="136.46" y="220.67" width="18.93" height="6.71" fill="#1482fa"/>
<rect x="154.69" y="220.67" width="18.93" height="6.71" fill="#16f0c8"/>
<rect x="172.92" y="220.67" width="37.15" height="6.71" fill="#1ef064"/>
<rect x="209.37" y="220.67" width="18.93" height="6.71" fill="#08f0f5"/>
<rect x="227.60" y="220.67" width="37.15" height="6.71" fill="#16f0c8"/>
<rect x="264.05" y="220.67" width="18.93" height="6.71" fill="#23f032"/>
<rect x="282.28" y="220.67" width="91.83" height="6.71" fill="#08f0f5"/>
<rect x="373.41" y="220.67" width="18.93" height="6.71" fill="#1cf096"/>
<rect x="391.64" y="220.67" width="18.93" height="6.71" fill="#16f0c8"/>
<rect x="409.87" y="220.67" width="18.93" height="6.71" fill="#50f014"/>
<rect x="428.09" y="220.67" width="18.93" height="6.71" fill="#16f0c8"/>
<rect x="446.32" y="220.67" width="54.68" height="6.71" fill="#08f0f5"/>
<rect x="27.10" y="226.68" width="37.15" height="6.71" fill="#08f0f5"/>
<rect x="63.55" y="226.68" width="18.93" height="6.71" fill="#50f014"/>
<rect x="81.78" y="226.68" width="18.93" height="6.71" fill="#08f0f5"/>
<rect x="100.01" y="226.68" width="37.15" height="6.71" fill="#23f032"/>
<rect x="136.46" y="226.68" width="18.93" height="6.71" fill="#1482fa"/>
<rect x="154.69" y="226.68" width="18.93" height="6.71" fill="#16f0c8"/>
<rect x="172.92" y="226.68" width="18.93" height="6.71" fill="#1cf096"/>
<rect x="191.14" y="226.68" width="18.93" height="6.71" fill="#1ef064"/>
<rect x="209.37" y="226.68" width="55.38" height="6.71" fill="#0ff0de"/>
<rect x="264.05" y="226.68" width="37.15" height="6.71" fill="#1cf096"/>
<rect x="300.50" y="226.68" width="73.61" height="6.71" fill="#08f0f5"/>
<rect x="373.41" y="226.68" width="37.15" height="6.71" fill="#1cf096"/>
<rect x="409.87" y="226.68" width="18.93" height="6.71" fill="#50f014"/>
<rect x="428.09" y="226.68" width="18.93" height="6.71" fill="#16f0c8"/>
<rect x="446.32" y="226.68" width="18.93" height="6.71" fill="#0ff0de"/>
<rect x="464.55" y="226.68" width="36.45" height="6.71" fill="#08f0f5"/>
<rect x="27.10" y="232.69" width="37.15" height="6.71" fill="#16f0c8"/>
<rect x="63.55" y="232.69" width="18.93" height="6.71" fill="#a8ee00"/>
<rect x="81.78" y="232.69" width="18.93" height="6.71" fill="#08f0f5"/>
<rect x="100.01" y="232.69" width="18.93" height="6.71" fill="#1ef064"/>
<rect x="118.23" y="232.69" width="18.93" height="6.71" fill="#1cf096"/>
<rect x="136.46" y="232.69" width="18.93" height="6.71" fill="#00b9ff"/>
<rect x="154.69" y="232.69" width="18.93" height="6.71" fill="#08f0f5"/>
<rect x="172.92" y="232.69" width="18.93" height="6.71" fill="#23f032"/>
<rect x="191.14" y="232.69" width="18.93" height="6.71" fill="#1ef064"/>
<rect x="209.37" y="232.69" width="37.15" height="6.71" fill="#16f0c8"/>
<rect x="245.82" y="232.69" width="18.93" height="6.71" fill="#1cf096"/>
<rect x="264.05" y="232.69" width="18.93" height="6.71" fill="#0ff0de"/>
<rect x="282.28" y="232.69" width="18.93" height="6.71" fill="#1ef064"/>
<rect x="300.50" y="232.69" width="73.61" height="6.71" fill="#0ff0de"/>
<rect x="373.41" y="232.69" width="37.15" height="6.71" fill="#16f0c8"/>
<rect x="409.87" y="232.69" width="18.93" height="6.71" fill="#23f032"/>
<rect x="428.09" y="232.69" width="37.15" height="6.71" fill="#1cf096"/>
<rect x="464.55" y="232.69" width="36.45" height="6.71" fill="#0ff0de"/>
<rect x="27.10" y="238.70" width="37.15" height="6.71" fill="#0818eb"/>
<rect x="63.55" y="238.70" width="18.93" height="6.71" fill="#000000"/>
<rect x="81.78" y="238.70" width="37.15" height="6.71" fill="#0818eb"/>
<rect x="118.23" y="238.70" width="18.93" height="6.71" fill="#000000"/>
<rect x="136.46" y="238.70" width="18.93" height="6.71" fill="#0818eb"/>
<rect x="154.69" y="238.70" width="18.93" height="6.71" fill="#000000"/>
<rect x="172.92" y="238.70" width="18.93" height="6.71" fill="#0818eb"/>
<rect x="191.14" y="238.70" width="37.15" height="6.71" fill="#000000"/>
<rect x="227.60" y="238.70" width="18.93" height="6.71" fill="#0818eb"/>
<rect x="245.82" y="238.70" width="18.93" height="6.71" fill="#000000"/>
<rect x="264.05" y="238.70" width="55.38" height="6.71" fill="#0818eb"/>
<rect x="318.73" y="238.70" width="18.93" height="6.71" fill="#000000"/>
<rect x="336.96" y="238.70" width="18.93" height="6.71" fill="#0818eb"/>
<rect x="355.18" y="238.70" width="37.15" height="6.71" fill="#000000"/>
<rect x="391.64" y="238.70" width="18.93" height="6.71" fill="#1482fa"/>
<rect x="409.87" y="238.70" width="73.61" height="6.71" fill="#0818eb"/>
<rect x="482.77" y="238.70" width="18.23" height="6.71" fill="#000000"/>
<rect x="27.10" y="244.71" width="91.83" height="6.71" fill="#0818eb"/>
<rect x="118.23" y="244.71" width="18.93" height="6.71" fill="#000000"/>
<rect x="136.46" y="244.71" width="18.93" height="6.71" fill="#0818eb"/>
<rect x="154.69" y="244.71" width="18.93" height="6.71" fill="#000000"/>
<rect x="172.92" y="244.71" width="18.93" height="6.71" fill="#1482fa"/>
<rect x="191.14" y="244.71" width="55.38" height="6.71" fill="#0818eb"/>
<rect x="245.82" y="244.71" width="18.93" height="6.71" fill="#000000"/>
<rect x="264.05" y="244.71" width="37.15" height="6.71" fill="#0818eb"/>
<rect x="300.50" y="244.71" width="37.15" height="6.71" fill="#000000"/>
<rect x="336.96" y="244.71" width="37.15" height="6.71" fill="#0818eb"/>
<rect x="373.41" y="244.71" width="18.93" height="6.71" fill="#000000"/>
<rect x="391.64" y="244.71" width="91.83" height="6.71" fill="#0818eb"/>
<rect x="482.77" y="244.71" width="18.23" height="6.71" fill="#000000"/>
<rect x="27.10" y="250.72" width="37.15" height="6.71" fill="#0818eb"/>
<rect x="63.55" y="250.72" width="18.93" height="6.71" fill="#1482fa"/>
<rect x="81.78" y="250.72" width="18.93" height="6.71" fill="#0818eb"/>
<rect x="100.01" y="250.72" width="18.93" height="6.71" fill="#1482fa"/>
<rect x="118.23" y="250.72" width="18.93" height="6.71" fill="#000000"/>
<rect x="136.46" y="250.72" width="18.93" height="6.71" fill="#1482fa"/>
<rect x="154.69" y="250.72" width="18.93" height="6.71" fill="#0818eb"/>
<rect x="172.92" y="250.72" width="18.93" height="6.71" fill="#1482fa"/>
<rect x="191.14" y="250.72" width="18.93" height="6.71" fill="#000000"/>
<rect x="209.37" y="250.72" width="18.93" height="6.71" fill="#1482fa"/>
<rect x="227.60" y="250.72" width="55.38" height="6.71" fill="#0818eb"/>
<rect x="282.28" y="250.72" width="18.93" height="6.71" fill="#00b9ff"/>
<rect x="300.50" y="250.72" width="91.83" height="6.71" fill="#0818eb"/>
<rect x="391.64" y="250.72" width="55.38" height="6.71" fill="#00b9ff"/>
<rect x="446.32" y="250.72" width="18.93" height="6.71" fill="#0818eb"/>
<rect x="464.55" y="250.72" width="18.93" height="6.71" fill="#08f0f5"/>
<rect x="482.77" y="250.72" width="18.23" height="6.71" fill="#0818eb"/>
<rect x="27.10" y="256.73" width="37.15" height="6.71" fill="#0818eb"/>
<rect x="63.55" y="256.73" width="18.93" height="6.71" fill="#000000"/>
<rect x="81.78" y="256.73" width="37.15" height="6.71" fill="#0818eb"/>
<rect x="118.23" y="256.73" width="18.93" height="6.71" fill="#000000"/>
<rect x="136.46" y="256.73" width="18.93" height="6.71" fill="#0818eb"/>
<rect x="154.69" y="256.73" width="18.93" height="6.71" fill="#000000"/>
<rect x="172.92" y="256.73" width="18.93" height="6.71" fill="#0818eb"/>
<rect x="191.14" y="256.73" width="37.15" height="6.71" fill="#000000"/>
<rect x="227.60" y="256.73" width="18.93" height="6.71" fill="#0818eb"/>
<rect x="245.82" y="256.73" width="18.93" height="6.71" fill="#000000"/>
<rect x="264.05" y="256.73" width="37.15" height="6.71" fill="#0818eb"/>
<rect x="300.50" y="256.73" width="37.15" height="6.71" fill="#000000"/>
<rect x="336.96" y="256.73" width="18.93" height="6.71" fill="#0818eb"/>
<rect x="355.18" y="256.73" width="37.15" height="6.71" fill="#000000"/>
<rect x="391.64" y="256.73" width="73.61" height="6.71" fill="#0818eb"/>
<rect x="464.55" y="256.73" width="36.45" height="6.71" fill="#000000"/>
<rect x="27.10" y="262.74" width="37.15" height="6.71" fill="#0818eb"/>
<rect x="63.55" y="262.74" width="18.93" height="6.71" fill="#000000"/>
<rect x="81.78" y="262.74" width="73.61" height="6.71" fill="#0818eb"/>
<rect x="154.69" y="262.74" width="18.93" height="6.71" fill="#000000"/>
<rect x="172.92" y="262.74" width="18.93" height="6.71" fill="#0818eb"/>
<rect x="191.14" y="262.74" width="37.15" height="6.71" fill="#000000"/>
<rect x="227.60" y="262.74" width="18.93" height="6.71" fill="#0818eb"/>
<rect x="245.82" y="262.74" width="18.93" height="6.71" fill="#000000"/>
<rect x="264.05" y="262.74" width="37.15" height="6.71" fill="#0818eb"/>
<rect x="300.50" y="262.74" width="37.15" height="6.71" fill="#000000"/>
<rect x="336.96" y="262.74" width="18.93" height="6.71" fill="#0818eb"/>
<rect x="355.18" y="262.74" width="37.15" height="6.71" fill="#000000"/>
<rect x="391.64" y="262.74" width="73.61" height="6.71" fill="#0818eb"/>
<rect x="464.55" y="262.74" width="36.45" height="6.71" fill="#000000"/>
<rect x="27.10" y="268.75" width="37.15" height="6.71" fill="#0818eb"/>
<rect x="63.55" y="268.75" width="18.93" height="6.71" fill="#000000"/>
<rect x="81.78" y="268.75" width="37.15" height="6.71" fill="#0818eb"/>
<rect x="118.23" y="268.75" width="18.93" height="6.71" fill="#000000"/>
<rect x="136.46" y="268.75" width="18.93" height="6.71" fill="#0818eb"/>
<rect x="154.69" y="268.75" width="18.93" height="6.71" fill="#000000"/>
<rect x="172.92" y="268.75" width="18.93" height="6.71" fill="#0818eb"/>
<rect x="191.14" y="268.75" width="18.93" height="6.71" fill="#000000"/>
<rect x="209.37" y="268.75" width="37.15" height="6.71" fill="#0818eb"/>
<rect x="245.82" y="268.75" width="18.93" height="6.71" fill="#000000"/>
<rect x="264.05" y="268.75" width="37.15" height="6.71" fill="#0818eb"/>
<rect x="300.50" y="268.75" width="37.15" height="6.71" fill="#000000"/>
<rect x="336.96" y="268.75" width="18.93" height="6.71" fill="#0818eb"/>
<rect x="355.18" y="268.75" width="37.15" height="6.71" fill="#000000"/>
<rect x="391.64" y="268.75" width="73.61" height="6.71" fill="#0818eb"/>
<rect x="464.55" y="268.75" width="36.45" height="6.71" fill="#000000"/>
<rect x="27.10" y="274.76" width="37.15" height="6.71" fill="#0ff0de"/>
<rect x="63.55" y="274.76" width="18.93" height="6.71" fill="#7df200"/>
<rect x="81.78" y="274.76" width="18.93" height="6.71" fill="#08f0f5"/>
<rect x="100.01" y="274.76" width="37.15" height="6.71" fill="#1ef064"/>
<rect x="136.46" y="274.76" width="18.93" height="6.71" fill="#1482fa"/>
<rect x="154.69" y="274.76" width="18.93" height="6.71" fill="#00b9ff"/>
<rect x="172.92" y="274.76" width="73.61" height="6.71" fill="#08f0f5"/>
<rect x="245.82" y="274.76" width="18.93" height="6.71" fill="#0ff0de"/>
<rect x="264.05" y="274.76" width="37.15" height="6.71" fill="#23f032"/>
<rect x="300.50" y="274.76" width="18.93" height="6.71" fill="#00b9ff"/>
<rect x="318.73" y="274.76" width="73.61" height="6.71" fill="#08f0f5"/>
<rect x="391.64" y="274.76" width="18.93" height="6.71" fill="#1cf096"/>
<rect x="409.87" y="274.76" width="18.93" height="6.71" fill="#23f032"/>
<rect x="428.09" y="274.76" width="18.93" height="6.71" fill="#1cf096"/>
<rect x="446.32" y="274.76" width="37.15" height="6.71" fill="#08f0f5"/>
<rect x="482.77" y="274.76" width="18.23" height="6.71" fill="#0ff0de"/>
<rect x="27.10" y="280.77" width="37.15" height="6.71" fill="#16f0c8"/>
<rect x="63.55" y="280.77" width="18.93" height="6.71" fill="#7df200"/>
<rect x="81.78" y="280.77" width="18.93" height="6.71" fill="#08f0f5"/>
<rect x="100.01" y="280.77" width="37.15" height="6.71" fill="#1cf096"/>
<rect x="136.46" y="280.77" width="37.15" height="6.71" fill="#08f0f5"/>
<rect x="172.92" y="280.77" width="18.93" height="6.71" fill="#1cf096"/>
<rect x="191.14" y="280.77" width="37.15" height="6.71" fill="#16f0c8"/>
<rect x="227.60" y="280.77" width="18.93" height="6.71" fill="#08f0f5"/>
<rect x="245.82" y="280.77" width="18.93" height="6.71" fill="#1cf096"/>
<rect x="264.05" y="280.77" width="37.15" height="6.71" fill="#23f032"/>
<rect x="300.50" y="280.77" width="55.38" height="6.71" fill="#08f0f5"/>
<rect x="355.18" y="280.77" width="18.93" height="6.71" fill="#00b9ff"/>
<rect x="373.41" y="280.77" width="18.93" height="6.71" fill="#08f0f5"/>
<rect x="391.64" y="280.77" width="18.93" height="6.71" fill="#1cf096"/>
<rect x="409.87" y="280.77" width="18.93" height="6.71" fill="#23f032"/>
<rect x="428.09" y="280.77" width="18.93" height="6.71" fill="#1cf096"/>
<rect x="446.32" y="280.77" width="54.68" height="6.71" fill="#0ff0de"/>
<rect x="27.10" y="286.78" width="37.15" height="6.71" fill="#0818eb"/>
<rect x="63.55" y="286.78" width="18.93" height="6.71" fill="#000000"/>
<rect x="81.78" y="286.78" width="37.15" height="6.71" fill="#0818eb"/>
<rect x="118.23" y="286.78" width="18.93" height="6.71" fill="#000000"/>
<rect x="136.46" y="286.78" width="18.93" height="6.71" fill="#0818eb"/>
<rect x="154.69" y="286.78" width="18.93" height="6.71" fill="#000000"/>
<rect x="172.92" y="286.78" width="18.93" height="6.71" fill="#0818eb"/>
<rect x="191.14" y="286.78" width="37.15" height="6.71" fill="#000000"/>
<rect x="227.60" y="286.78" width="18.93" height="6.71" fill="#0818eb"/>
<rect x="245.82" y="286.78" width="18.93" height="6.71" fill="#000000"/>
<rect x="264.05" y="286.78" width="37.15" height="6.71" fill="#0818eb"/>
<rect x="300.50" y="286.78" width="37.15" height="6.71" fill="#000000"/>
<rect x="336.96" y="286.78" width="18.93" height="6.71" fill="#0818eb"/>
<rect x="355.18" y="286.78" width="37.15" height="6.71" fill="#000000"/>
<rect x="391.64" y="286.78" width="91.83" height="6.71" fill="#0818eb"/>
<rect x="482.77" y="286.78" width="18.23" height="6.71" fill="#000000"/>
<rect x="27.10" y="292.79" width="18.93" height="6.71" fill="#08f0f5"/>
<rect x="45.33" y="292.79" width="18.93" height="6.71" fill="#00b9ff"/>
<rect x="63.55" y="292.79" width="18.93" height="6.71" fill="#1cf096"/>
<rect x="81.78" y="292.79" width="18.93" height="6.71" fill="#08f0f5"/>
<rect x="100.01" y="292.79" width="18.93" height="6.71" fill="#23f032"/>
<rect x="118.23" y="292.79" width="18.93" height="6.71" fill="#1ef064"/>
<rect x="136.46" y="292.79" width="18.93" height="6.71" fill="#16f0c8"/>
<rect x="154.69" y="292.79" width="18.93" height="6.71" fill="#1ef064"/>
<rect x="172.92" y="292.79" width="18.93" height="6.71" fill="#23f032"/>
<rect x="191.14" y="292.79" width="37.15" height="6.71" fill="#0ff0de"/>
<rect x="227.60" y="292.79" width="18.93" height="6.71" fill="#1cf096"/>
<rect x="245.82" y="292.79" width="18.93" height="6.71" fill="#08f0f5"/>
<rect x="264.05" y="292.79" width="18.93" height="6.71" fill="#0ff0de"/>
<rect x="282.28" y="292.79" width="18.93" height="6.71" fill="#1ef064"/>
<rect x="300.50" y="292.79" width="91.83" height="6.71" fill="#08f0f5"/>
<rect x="391.64" y="292.79" width="18.93" height="6.71" fill="#1482fa"/>
<rect x="409.87" y="292.79" width="18.93" height="6.71" fill="#1cf096"/>
<rect x="428.09" y="292.79" width="18.93" height="6.71" fill="#23f032"/>
<rect x="446.32" y="292.79" width="37.15" height="6.71" fill="#1cf096"/>
<rect x="482.77" y="292.79" width="18.23" height="6.71" fill="#16f0c8"/>
<rect x="27.10" y="298.80" width="18.93" height="6.71" fill="#ff9600"/>
<rect x="45.33" y="298.80" width="55.38" height="6.71" fill="#f5c800"/>
<rect x="100.01" y="298.80" width="37.15" height="6.71" fill="#ff9600"/>
<rect x="136.46" y="298.80" width="18.93" height="6.71" fill="#f5c800"/>
<rect x="154.69" y="298.80" width="18.93" height="6.71" fill="#ff9600"/>
<rect x="172.92" y="298.80" width="18.93" height="6.71" fill="#ff6400"/>
<rect x="191.14" y="298.80" width="91.83" height="6.71" fill="#ff9600"/>
<rect x="282.28" y="298.80" width="18.93" height="6.71" fill="#ff6400"/>
<rect x="300.50" y="298.80" width="18.93" height="6.71" fill="#ff9600"/>
<rect x="318.73" y="298.80" width="18.93" height="6.71" fill="#f5c800"/>
<rect x="336.96" y="298.80" width="18.93" height="6.71" fill="#ff9600"/>
<rect x="355.18" y="298.80" width="18.93" height="6.71" fill="#f5c800"/>
<rect x="373.41" y="298.80" width="18.93" height="6.71" fill="#cdea00"/>
<rect x="391.64" y="298.80" width="55.38" height="6.71" fill="#ff9600"/>
<rect x="446.32" y="298.80" width="18.93" height="6.71" fill="#ff6400"/>
<rect x="464.55" y="298.80" width="36.45" height="6.71" fill="#f5c800"/>
<rect x="27.10" y="304.81" width="18.93" height="6.71" fill="#a8ee00"/>
<rect x="45.33" y="304.81" width="18.93" height="6.71" fill="#1cf096"/>
<rect x="63.55" y="304.81" width="18.93" height="6.71" fill="#f5c800"/>
<rect x="81.78" y="304.81" width="18.93" height="6.71" fill="#a8ee00"/>
<rect x="100.01" y="304.81" width="18.93" height="6.71" fill="#f5c800"/>
<rect x="118.23" y="304.81" width="37.15" height="6.71" fill="#cdea00"/>
<rect x="154.69" y="304.81" width="18.93" height="6.71" fill="#50f014"/>
<rect x="172.92" y="304.81" width="18.93" height="6.71" fill="#cdea00"/>
<rect x="191.14" y="304.81" width="37.15" height="6.71" fill="#23f032"/>
<rect x="227.60" y="304.81" width="18.93" height="6.71" fill="#50f014"/>
<rect x="245.82" y="304.81" width="18.93" height="6.71" fill="#cdea00"/>
<rect x="264.05" y="304.81" width="37.15" height="6.71" fill="#f5c800"/>
<rect x="300.50" y="304.81" width="55.38" height="6.71" fill="#cdea00"/>
<rect x="355.18" y="304.81" width="18.93" height="6.71" fill="#50f014"/>
<rect x="373.41" y="304.81" width="18.93" height="6.71" fill="#cdea00"/>
<rect x="391.64" y="304.81" width="18.93" height="6.71" fill="#50f014"/>
<rect x="409.87" y="304.81" width="37.15" height="6.71" fill="#a8ee00"/>
<rect x="446.32" y="304.81" width="18.93" height="6.71" fill="#ff9600"/>
<rect x="464.55" y="304.81" width="18.93" height="6.71" fill="#1ef064"/>
<rect x="482.77" y="304.81" width="18.23" height="6.71" fill="#50f014"/>
<rect x="27.10" y="310.82" width="18.93" height="6.71" fill="#1ef064"/>
<rect x="45.33" y="310.82" width="18.93" height="6.71" fill="#cdea00"/>
<rect x="63.55" y="310.82" width="18.93" height="6.71" fill="#ff9600"/>
<rect x="81.78" y="310.82" width="73.61" height="6.71" fill="#ff0f19"/>
<rect x="154.69" y="310.82" width="18.93" height="6.71" fill="#ff6400"/>
<rect x="172.92" y="310.82" width="18.93" height="6.71" fill="#ff0f19"/>
<rect x="191.14" y="310.82" width="73.61" height="6.71" fill="#ff6400"/>
<rect x="264.05" y="310.82" width="55.38" height="6.71" fill="#ff0f19"/>
<rect x="318.73" y="310.82" width="18.93" height="6.71" fill="#f5c800"/>
<rect x="336.96" y="310.82" width="18.93" height="6.71" fill="#ff0f19"/>
<rect x="355.18" y="310.82" width="18.93" height="6.71" fill="#f5c800"/>
<rect x="373.41" y="310.82" width="18.93" height="6.71" fill="#ff9600"/>
<rect x="391.64" y="310.82" width="91.83" height="6.71" fill="#ff0f19"/>
<rect x="482.77" y="310.82" width="18.23" height="6.71" fill="#ff6400"/>
<rect x="27.10" y="316.83" width="37.15" height="6.71" fill="#08f0f5"/>
<rect x="63.55" y="316.83" width="18.93" height="6.71" fill="#50f014"/>
<rect x="81.78" y="316.83" width="18.93" height="6.71" fill="#08f0f5"/>
<rect x="100.01" y="316.83" width="18.93" height="6.71" fill="#0ff0de"/>
<rect x="118.23" y="316.83" width="18.93" height="6.71" fill="#16f0c8"/>
<rect x="136.46" y="316.83" width="18.93" height="6.71" fill="#1482fa"/>
<rect x="154.69" y="316.83" width="110.06" height="6.71" fill="#08f0f5"/>
<rect x="264.05" y="316.83" width="18.93" height="6.71" fill="#1cf096"/>
<rect x="282.28" y="316.83" width="18.93" height="6.71" fill="#1ef064"/>
<rect x="300.50" y="316.83" width="91.83" height="6.71" fill="#08f0f5"/>
<rect x="391.64" y="316.83" width="18.93" height="6.71" fill="#1ef064"/>
<rect x="409.87" y="316.83" width="18.93" height="6.71" fill="#23f032"/>
<rect x="428.09" y="316.83" width="18.93" height="6.71" fill="#1cf096"/>
<rect x="446.32" y="316.83" width="18.93" height="6.71" fill="#23f032"/>
<rect x="464.55" y="316.83" width="18.93" height="6.71" fill="#08f0f5"/>
<rect x="482.77" y="316.83" width="18.23" height="6.71" fill="#0ff0de"/>
<rect x="27.10" y="322.84" width="37.15" height="6.71" fill="#1cf096"/>
<rect x="63.55" y="322.84" width="18.93" height="6.71" fill="#23f032"/>
<rect x="81.78" y="322.84" width="18.93" height="6.71" fill="#16f0c8"/>
<rect x="100.01" y="322.84" width="18.93" height="6.71" fill="#1ef064"/>
<rect x="118.23" y="322.84" width="18.93" height="6.71" fill="#23f032"/>
<rect x="136.46" y="322.84" width="37.15" height="6.71" fill="#1cf096"/>
<rect x="172.92" y="322.84" width="18.93" height="6.71" fill="#23f032"/>
<rect x="191.14" y="322.84" width="73.61" height="6.71" fill="#1cf096"/>
<rect x="264.05" y="322.84" width="18.93" height="6.71" fill="#1ef064"/>
<rect x="282.28" y="322.84" width="18.93" height="6.71" fill="#23f032"/>
<rect x="300.50" y="322.84" width="37.15" height="6.71" fill="#16f0c8"/>
<rect x="336.96" y="322.84" width="18.93" height="6.71" fill="#1ef064"/>
<rect x="355.18" y="322.84" width="18.93" height="6.71" fill="#16f0c8"/>
<rect x="373.41" y="322.84" width="18.93" height="6.71" fill="#08f0f5"/>
<rect x="391.64" y="322.84" width="73.61" height="6.71" fill="#23f032"/>
<rect x="464.55" y="322.84" width="18.93" height="6.71" fill="#08f0f5"/>
<rect x="482.77" y="322.84" width="18.23" height="6.71" fill="#1cf096"/>
<rect x="27.10" y="328.85" width="110.06" height="6.71" fill="#f5c800"/>
<rect x="136.46" y="328.85" width="18.93" height="6.71" fill="#cdea00"/>
<rect x="154.69" y="328.85" width="18.93" height="6.71" fill="#a8ee00"/>
<rect x="172.92" y="328.85" width="18.93" height="6.71" fill="#ff9600"/>
<rect x="191.14" y="328.85" width="37.15" height="6.71" fill="#cdea00"/>
<rect x="227.60" y="328.85" width="37.15" height="6.71" fill="#f5c800"/>
<rect x="264.05" y="328.85" width="55.38" height="6.71" fill="#ff9600"/>
<rect x="318.73" y="328.85" width="18.93" height="6.71" fill="#cdea00"/>
<rect x="336.96" y="328.85" width="18.93" height="6.71" fill="#ff9600"/>
<rect x="355.18" y="328.85" width="37.15" height="6.71" fill="#cdea00"/>
<rect x="391.64" y="328.85" width="18.93" height="6.71" fill="#ff9600"/>
<rect x="409.87" y="328.85" width="18.93" height="6.71" fill="#f5c800"/>
<rect x="428.09" y="328.85" width="18.93" height="6.71" fill="#ff9600"/>
<rect x="446.32" y="328.85" width="18.93" height="6.71" fill="#ff6400"/>
<rect x="464.55" y="328.85" width="18.93" height="6.71" fill="#f5c800"/>
<rect x="482.77" y="328.85" width="18.23" height="6.71" fill="#cdea00"/>
<rect x="27.10" y="334.86" width="18.93" height="6.01" fill="#1482fa"/>
<rect x="45.33" y="334.86" width="18.93" height="6.01" fill="#0818eb"/>
<rect x="63.55" y="334.86" width="18.93" height="6.01" fill="#00b9ff"/>
<rect x="81.78" y="334.86" width="18.93" height="6.01" fill="#0818eb"/>
<rect x="100.01" y="334.86" width="55.38" height="6.01" fill="#1482fa"/>
<rect x="154.69" y="334.86" width="18.93" height="6.01" fill="#00b9ff"/>
<rect x="172.92" y="334.86" width="18.93" height="6.01" fill="#08f0f5"/>
<rect x="191.14" y="334.86" width="37.15" height="6.01" fill="#1482fa"/>
<rect x="227.60" y="334.86" width="18.93" height="6.01" fill="#00b9ff"/>
<rect x="245.82" y="334.86" width="18.93" height="6.01" fill="#1482fa"/>
<rect x="264.05" y="334.86" width="37.15" height="6.01" fill="#08f0f5"/>
<rect x="300.50" y="334.86" width="18.93" height="6.01" fill="#1482fa"/>
<rect x="318.73" y="334.86" width="18.93" height="6.01" fill="#0818eb"/>
<rect x="336.96" y="334.86" width="18.93" height="6.01" fill="#1482fa"/>
<rect x="355.18" y="334.86" width="18.93" height="6.01" fill="#00b9ff"/>
<rect x="373.41" y="334.86" width="91.83" height="6.01" fill="#08f0f5"/>
<rect x="464.55" y="334.86" width="18.93" height="6.01" fill="#1cf096"/>
<rect x="482.77" y="334.86" width="18.23" height="6.01" fill="#08f0f5"/>
<rect x="81.00" y="58.40" width="1.6" height="282.47" fill="#ffffff"/>
<rect x="153.90" y="58.40" width="1.6" height="282.47" fill="#ffffff"/>
<rect x="226.10" y="58.40" width="1.6" height="282.47" fill="#ffffff"/>
<rect x="299.60" y="58.40" width="1.6" height="282.47" fill="#ffffff"/>
<rect x="372.10" y="58.40" width="1.6" height="282.47" fill="#ffffff"/>
<rect x="427.30" y="58.40" width="1.6" height="282.47" fill="#ffffff"/>
<text x="51.6" y="5.8" font-family="Liberation Sans, sans-serif" font-weight="bold" font-size="7.5" fill="#000000" stroke="#000000" stroke-width="0.1" text-anchor="middle">Hoxa9</text>
<text x="118.2" y="5.8" font-family="Liberation Sans, sans-serif" font-weight="bold" font-size="7.5" fill="#000000" stroke="#000000" stroke-width="0.1" text-anchor="middle">HoxA9 + Meis</text>
<text x="186.5" y="5.8" font-family="Liberation Sans, sans-serif" font-weight="bold" font-size="7.5" fill="#000000" stroke="#000000" stroke-width="0.1" text-anchor="middle">Hoxa9 +</text>
<text x="187" y="14.8" font-family="Liberation Sans, sans-serif" font-weight="bold" font-size="7.5" fill="#000000" stroke="#000000" stroke-width="0.1" text-anchor="middle">VP16 Meis<tspan font-weight="normal" fill="#777777" stroke="none">Δ</tspan>334</text>
<text x="263.6" y="5.8" font-family="Liberation Sans, sans-serif" font-weight="bold" font-size="7.5" fill="#000000" stroke="#000000" stroke-width="0.1" text-anchor="middle">Hoxa9 +</text>
<text x="263.5" y="14.8" font-family="Liberation Sans, sans-serif" font-weight="bold" font-size="7.5" fill="#000000" stroke="#000000" stroke-width="0.1" text-anchor="middle">VP16 Meis</text>
<text x="340.2" y="5.8" font-family="Liberation Sans, sans-serif" font-weight="bold" font-size="7.5" fill="#000000" stroke="#000000" stroke-width="0.1" text-anchor="middle">Hoxa9 +</text>
<text x="338.5" y="14.8" font-family="Liberation Sans, sans-serif" font-weight="bold" font-size="7.5" fill="#000000" stroke="#000000" stroke-width="0.1" text-anchor="middle">Meis<tspan font-weight="normal" fill="#777777" stroke="none">Δ</tspan>334</text>
<text x="403.5" y="5.8" font-family="Liberation Sans, sans-serif" font-weight="bold" font-size="7.5" fill="#000000" stroke="#000000" stroke-width="0.1" text-anchor="middle">VP16 Meis</text>
<text x="463.1" y="5.8" font-family="Liberation Sans, sans-serif" font-weight="bold" font-size="7.5" fill="#000000" stroke="#000000" stroke-width="0.1" text-anchor="middle">VP16 Meis<tspan font-weight="normal" fill="#777777" stroke="none">Δ</tspan>334</text>
<text x="12" y="24.75" font-family="Liberation Sans, sans-serif" font-weight="bold" font-size="5" fill="#111111" text-anchor="middle">Group</text>
<text x="35.00" y="24.9" font-family="Liberation Sans, sans-serif" font-size="4.9" fill="#404040" text-anchor="middle">1B</text>
<text x="52.75" y="24.9" font-family="Liberation Sans, sans-serif" font-size="4.9" fill="#404040" text-anchor="middle">1B</text>
<text x="70.90" y="24.9" font-family="Liberation Sans, sans-serif" font-size="4.9" fill="#404040" text-anchor="middle">2B</text>
<text x="90.25" y="24.9" font-family="Liberation Sans, sans-serif" font-size="4.9" fill="#404040" text-anchor="middle">1B</text>
<text x="108.40" y="24.9" font-family="Liberation Sans, sans-serif" font-size="4.9" fill="#404040" text-anchor="middle">2B</text>
<text x="126.60" y="24.9" font-family="Liberation Sans, sans-serif" font-size="4.9" fill="#404040" text-anchor="middle">2B</text>
<text x="145.25" y="24.9" font-family="Liberation Sans, sans-serif" font-size="4.9" fill="#404040" text-anchor="middle">2B</text>
<text x="164.80" y="24.9" font-family="Liberation Sans, sans-serif" font-size="4.9" fill="#404040" text-anchor="middle">1A</text>
<text x="182.90" y="24.9" font-family="Liberation Sans, sans-serif" font-size="4.9" fill="#404040" text-anchor="middle">1A</text>
<text x="201.40" y="24.9" font-family="Liberation Sans, sans-serif" font-size="4.9" fill="#404040" text-anchor="middle">1A</text>
<text x="219.20" y="24.9" font-family="Liberation Sans, sans-serif" font-size="4.9" fill="#404040" text-anchor="middle">1A</text>
<text x="239.20" y="24.9" font-family="Liberation Sans, sans-serif" font-size="4.9" fill="#404040" text-anchor="middle">1A</text>
<text x="257.10" y="24.9" font-family="Liberation Sans, sans-serif" font-size="4.9" fill="#404040" text-anchor="middle">1A</text>
<text x="275.20" y="24.9" font-family="Liberation Sans, sans-serif" font-size="4.9" fill="#404040" text-anchor="middle">1A</text>
<text x="293.10" y="24.9" font-family="Liberation Sans, sans-serif" font-size="4.9" fill="#404040" text-anchor="middle">1A</text>
<text x="313.50" y="24.9" font-family="Liberation Sans, sans-serif" font-size="4.9" fill="#404040" text-anchor="middle">1B</text>
<text x="331.10" y="24.9" font-family="Liberation Sans, sans-serif" font-size="4.9" fill="#404040" text-anchor="middle">2B</text>
<text x="349.20" y="24.9" font-family="Liberation Sans, sans-serif" font-size="4.9" fill="#404040" text-anchor="middle">1B</text>
<text x="367.00" y="24.9" font-family="Liberation Sans, sans-serif" font-size="4.9" fill="#404040" text-anchor="middle">2A</text>
<text x="384.30" y="24.9" font-family="Liberation Sans, sans-serif" font-size="4.9" fill="#404040" text-anchor="middle">2B</text>
<text x="402.20" y="24.9" font-family="Liberation Sans, sans-serif" font-size="4.9" fill="#404040" text-anchor="middle">2B</text>
<text x="420.60" y="24.9" font-family="Liberation Sans, sans-serif" font-size="4.9" fill="#404040" text-anchor="middle">2A</text>
<text x="440.40" y="24.9" font-family="Liberation Sans, sans-serif" font-size="4.9" fill="#404040" text-anchor="middle">1B</text>
<text x="457.00" y="24.9" font-family="Liberation Sans, sans-serif" font-size="4.9" fill="#404040" text-anchor="middle">1C</text>
<text x="474.60" y="24.9" font-family="Liberation Sans, sans-serif" font-size="4.9" fill="#404040" text-anchor="middle">2B</text>
<text x="492.90" y="24.9" font-family="Liberation Sans, sans-serif" font-size="4.9" fill="#404040" text-anchor="middle">1B</text>
<text x="12" y="31.35" font-family="Liberation Sans, sans-serif" font-weight="bold" font-size="5" fill="#111111" text-anchor="middle">Mac high</text>
<text x="35.00" y="31.5" font-family="Liberation Sans, sans-serif" font-size="4.9" fill="#404040" text-anchor="middle">95</text>
<text x="52.75" y="31.5" font-family="Liberation Sans, sans-serif" font-size="4.9" fill="#404040" text-anchor="middle">95</text>
<text x="70.90" y="31.5" font-family="Liberation Sans, sans-serif" font-size="4.9" fill="#404040" text-anchor="middle">98</text>
<text x="90.25" y="31.5" font-family="Liberation Sans, sans-serif" font-size="4.9" fill="#404040" text-anchor="middle">89</text>
<text x="108.40" y="31.5" font-family="Liberation Sans, sans-serif" font-size="4.9" fill="#404040" text-anchor="middle">95</text>
<text x="126.60" y="31.5" font-family="Liberation Sans, sans-serif" font-size="4.9" fill="#404040" text-anchor="middle">91</text>
<text x="145.25" y="31.5" font-family="Liberation Sans, sans-serif" font-size="4.9" fill="#404040" text-anchor="middle">94</text>
<text x="164.80" y="31.5" font-family="Liberation Sans, sans-serif" font-size="4.9" fill="#404040" text-anchor="middle">33</text>
<text x="182.90" y="31.5" font-family="Liberation Sans, sans-serif" font-size="4.9" fill="#404040" text-anchor="middle">100</text>
<text x="201.40" y="31.5" font-family="Liberation Sans, sans-serif" font-size="4.9" fill="#404040" text-anchor="middle">50</text>
<text x="219.20" y="31.5" font-family="Liberation Sans, sans-serif" font-size="4.9" fill="#404040" text-anchor="middle">53</text>
<text x="239.20" y="31.5" font-family="Liberation Sans, sans-serif" font-size="4.9" fill="#404040" text-anchor="middle">80</text>
<text x="257.10" y="31.5" font-family="Liberation Sans, sans-serif" font-size="4.9" fill="#404040" text-anchor="middle">100</text>
<text x="275.20" y="31.5" font-family="Liberation Sans, sans-serif" font-size="4.9" fill="#404040" text-anchor="middle">80</text>
<text x="293.10" y="31.5" font-family="Liberation Sans, sans-serif" font-size="4.9" fill="#404040" text-anchor="middle">0</text>
<text x="313.50" y="31.5" font-family="Liberation Sans, sans-serif" font-size="4.9" fill="#404040" text-anchor="middle">45</text>
<text x="331.10" y="31.5" font-family="Liberation Sans, sans-serif" font-size="4.9" fill="#404040" text-anchor="middle">55</text>
<text x="349.20" y="31.5" font-family="Liberation Sans, sans-serif" font-size="4.9" fill="#404040" text-anchor="middle">100</text>
<text x="367.00" y="31.5" font-family="Liberation Sans, sans-serif" font-size="4.9" fill="#404040" text-anchor="middle">60</text>
<text x="384.30" y="31.5" font-family="Liberation Sans, sans-serif" font-size="4.9" fill="#404040" text-anchor="middle">36</text>
<text x="402.20" y="31.5" font-family="Liberation Sans, sans-serif" font-size="4.9" fill="#404040" text-anchor="middle">85</text>
<text x="420.60" y="31.5" font-family="Liberation Sans, sans-serif" font-size="4.9" fill="#404040" text-anchor="middle">96</text>
<text x="440.40" y="31.5" font-family="Liberation Sans, sans-serif" font-size="4.9" fill="#404040" text-anchor="middle">49</text>
<text x="457.00" y="31.5" font-family="Liberation Sans, sans-serif" font-size="4.9" fill="#404040" text-anchor="middle">0</text>
<text x="474.60" y="31.5" font-family="Liberation Sans, sans-serif" font-size="4.9" fill="#404040" text-anchor="middle">91</text>
<text x="492.90" y="31.5" font-family="Liberation Sans, sans-serif" font-size="4.9" fill="#404040" text-anchor="middle">16</text>
<text x="12" y="37.55" font-family="Liberation Sans, sans-serif" font-weight="bold" font-size="5" fill="#111111" text-anchor="middle">Mac low</text>
<text x="35.00" y="37.7" font-family="Liberation Sans, sans-serif" font-size="4.9" fill="#404040" text-anchor="middle">0</text>
<text x="52.75" y="37.7" font-family="Liberation Sans, sans-serif" font-size="4.9" fill="#404040" text-anchor="middle">0</text>
<text x="70.90" y="37.7" font-family="Liberation Sans, sans-serif" font-size="4.9" fill="#404040" text-anchor="middle">0</text>
<text x="90.25" y="37.7" font-family="Liberation Sans, sans-serif" font-size="4.9" fill="#404040" text-anchor="middle">0</text>
<text x="108.40" y="37.7" font-family="Liberation Sans, sans-serif" font-size="4.9" fill="#404040" text-anchor="middle">0</text>
<text x="126.60" y="37.7" font-family="Liberation Sans, sans-serif" font-size="4.9" fill="#404040" text-anchor="middle">0</text>
<text x="145.25" y="37.7" font-family="Liberation Sans, sans-serif" font-size="4.9" fill="#404040" text-anchor="middle">0</text>
<text x="164.80" y="37.7" font-family="Liberation Sans, sans-serif" font-size="4.9" fill="#404040" text-anchor="middle">66</text>
<text x="182.90" y="37.7" font-family="Liberation Sans, sans-serif" font-size="4.9" fill="#404040" text-anchor="middle">0</text>
<text x="201.40" y="37.7" font-family="Liberation Sans, sans-serif" font-size="4.9" fill="#404040" text-anchor="middle">33</text>
<text x="219.20" y="37.7" font-family="Liberation Sans, sans-serif" font-size="4.9" fill="#404040" text-anchor="middle">33</text>
<text x="239.20" y="37.7" font-family="Liberation Sans, sans-serif" font-size="4.9" fill="#404040" text-anchor="middle">20</text>
<text x="257.10" y="37.7" font-family="Liberation Sans, sans-serif" font-size="4.9" fill="#404040" text-anchor="middle">0</text>
<text x="275.20" y="37.7" font-family="Liberation Sans, sans-serif" font-size="4.9" fill="#404040" text-anchor="middle">20</text>
<text x="293.10" y="37.7" font-family="Liberation Sans, sans-serif" font-size="4.9" fill="#404040" text-anchor="middle">100</text>
<text x="313.50" y="37.7" font-family="Liberation Sans, sans-serif" font-size="4.9" fill="#404040" text-anchor="middle">40</text>
<text x="331.10" y="37.7" font-family="Liberation Sans, sans-serif" font-size="4.9" fill="#404040" text-anchor="middle">45</text>
<text x="349.20" y="37.7" font-family="Liberation Sans, sans-serif" font-size="4.9" fill="#404040" text-anchor="middle">0</text>
<text x="367.00" y="37.7" font-family="Liberation Sans, sans-serif" font-size="4.9" fill="#404040" text-anchor="middle">40</text>
<text x="384.30" y="37.7" font-family="Liberation Sans, sans-serif" font-size="4.9" fill="#404040" text-anchor="middle">49</text>
<text x="402.20" y="37.7" font-family="Liberation Sans, sans-serif" font-size="4.9" fill="#404040" text-anchor="middle">0</text>
<text x="420.60" y="37.7" font-family="Liberation Sans, sans-serif" font-size="4.9" fill="#404040" text-anchor="middle">0</text>
<text x="440.40" y="37.7" font-family="Liberation Sans, sans-serif" font-size="4.9" fill="#404040" text-anchor="middle">35</text>
<text x="457.00" y="37.7" font-family="Liberation Sans, sans-serif" font-size="4.9" fill="#404040" text-anchor="middle">7</text>
<text x="474.60" y="37.7" font-family="Liberation Sans, sans-serif" font-size="4.9" fill="#404040" text-anchor="middle">0</text>
<text x="492.90" y="37.7" font-family="Liberation Sans, sans-serif" font-size="4.9" fill="#404040" text-anchor="middle">8</text>
<text x="12" y="43.95" font-family="Liberation Sans, sans-serif" font-weight="bold" font-size="5" fill="#111111" text-anchor="middle">Kit</text>
<text x="35.00" y="44.1" font-family="Liberation Sans, sans-serif" font-size="4.9" fill="#404040" text-anchor="middle">10</text>
<text x="52.75" y="44.1" font-family="Liberation Sans, sans-serif" font-size="4.9" fill="#404040" text-anchor="middle">27</text>
<text x="70.90" y="44.1" font-family="Liberation Sans, sans-serif" font-size="4.9" fill="#404040" text-anchor="middle">38</text>
<text x="90.25" y="44.1" font-family="Liberation Sans, sans-serif" font-size="4.9" fill="#404040" text-anchor="middle">54</text>
<text x="108.40" y="44.1" font-family="Liberation Sans, sans-serif" font-size="4.9" fill="#404040" text-anchor="middle">39</text>
<text x="126.60" y="44.1" font-family="Liberation Sans, sans-serif" font-size="4.9" fill="#404040" text-anchor="middle">36</text>
<text x="145.25" y="44.1" font-family="Liberation Sans, sans-serif" font-size="4.9" fill="#404040" text-anchor="middle">45</text>
<text x="164.80" y="44.1" font-family="Liberation Sans, sans-serif" font-size="4.9" fill="#404040" text-anchor="middle">63</text>
<text x="182.90" y="44.1" font-family="Liberation Sans, sans-serif" font-size="4.9" fill="#404040" text-anchor="middle">56</text>
<text x="201.40" y="44.1" font-family="Liberation Sans, sans-serif" font-size="4.9" fill="#404040" text-anchor="middle">59</text>
<text x="219.20" y="44.1" font-family="Liberation Sans, sans-serif" font-size="4.9" fill="#404040" text-anchor="middle">49</text>
<text x="239.20" y="44.1" font-family="Liberation Sans, sans-serif" font-size="4.9" fill="#404040" text-anchor="middle">54</text>
<text x="257.10" y="44.1" font-family="Liberation Sans, sans-serif" font-size="4.9" fill="#404040" text-anchor="middle">50</text>
<text x="275.20" y="44.1" font-family="Liberation Sans, sans-serif" font-size="4.9" fill="#404040" text-anchor="middle">56</text>
<text x="293.10" y="44.1" font-family="Liberation Sans, sans-serif" font-size="4.9" fill="#404040" text-anchor="middle">36</text>
<text x="313.50" y="44.1" font-family="Liberation Sans, sans-serif" font-size="4.9" fill="#404040" text-anchor="middle">92</text>
<text x="331.10" y="44.1" font-family="Liberation Sans, sans-serif" font-size="4.9" fill="#404040" text-anchor="middle">12</text>
<text x="349.20" y="44.1" font-family="Liberation Sans, sans-serif" font-size="4.9" fill="#404040" text-anchor="middle">51</text>
<text x="367.00" y="44.1" font-family="Liberation Sans, sans-serif" font-size="4.9" fill="#404040" text-anchor="middle">23</text>
<text x="384.30" y="44.1" font-family="Liberation Sans, sans-serif" font-size="4.9" fill="#404040" text-anchor="middle">4</text>
<text x="402.20" y="44.1" font-family="Liberation Sans, sans-serif" font-size="4.9" fill="#404040" text-anchor="middle">69</text>
<text x="420.60" y="44.1" font-family="Liberation Sans, sans-serif" font-size="4.9" fill="#404040" text-anchor="middle">15</text>
<text x="440.40" y="44.1" font-family="Liberation Sans, sans-serif" font-size="4.9" fill="#404040" text-anchor="middle">8</text>
<text x="457.00" y="44.1" font-family="Liberation Sans, sans-serif" font-size="4.9" fill="#404040" text-anchor="middle">92</text>
<text x="474.60" y="44.1" font-family="Liberation Sans, sans-serif" font-size="4.9" fill="#404040" text-anchor="middle">28</text>
<text x="492.90" y="44.1" font-family="Liberation Sans, sans-serif" font-size="4.9" fill="#404040" text-anchor="middle">30</text>
<text x="12" y="50.55" font-family="Liberation Sans, sans-serif" font-weight="bold" font-size="5" fill="#111111" text-anchor="middle">mouse id</text>
<text x="35.00" y="50.7" font-family="Liberation Sans, sans-serif" font-size="4.9" fill="#404040" text-anchor="middle">23</text>
<text x="52.75" y="50.7" font-family="Liberation Sans, sans-serif" font-size="4.9" fill="#404040" text-anchor="middle">25</text>
<text x="70.90" y="50.7" font-family="Liberation Sans, sans-serif" font-size="4.9" fill="#404040" text-anchor="middle">27</text>
<text x="90.25" y="50.7" font-family="Liberation Sans, sans-serif" font-size="4.9" fill="#404040" text-anchor="middle">13</text>
<text x="108.40" y="50.7" font-family="Liberation Sans, sans-serif" font-size="4.9" fill="#404040" text-anchor="middle">14</text>
<text x="126.60" y="50.7" font-family="Liberation Sans, sans-serif" font-size="4.9" fill="#404040" text-anchor="middle">15</text>
<text x="145.25" y="50.7" font-family="Liberation Sans, sans-serif" font-size="4.9" fill="#404040" text-anchor="middle">16</text>
<text x="164.80" y="50.7" font-family="Liberation Sans, sans-serif" font-size="4.9" fill="#404040" text-anchor="middle">8</text>
<text x="182.90" y="50.7" font-family="Liberation Sans, sans-serif" font-size="4.9" fill="#404040" text-anchor="middle">9</text>
<text x="201.40" y="50.7" font-family="Liberation Sans, sans-serif" font-size="4.9" fill="#404040" text-anchor="middle">10</text>
<text x="219.20" y="50.7" font-family="Liberation Sans, sans-serif" font-size="4.9" fill="#404040" text-anchor="middle">11</text>
<text x="239.20" y="50.7" font-family="Liberation Sans, sans-serif" font-size="4.9" fill="#404040" text-anchor="middle">1</text>
<text x="257.10" y="50.7" font-family="Liberation Sans, sans-serif" font-size="4.9" fill="#404040" text-anchor="middle">4</text>
<text x="275.20" y="50.7" font-family="Liberation Sans, sans-serif" font-size="4.9" fill="#404040" text-anchor="middle">5</text>
<text x="293.10" y="50.7" font-family="Liberation Sans, sans-serif" font-size="4.9" fill="#404040" text-anchor="middle">6</text>
<text x="313.50" y="50.7" font-family="Liberation Sans, sans-serif" font-size="4.9" fill="#404040" text-anchor="middle">21</text>
<text x="331.10" y="50.7" font-family="Liberation Sans, sans-serif" font-size="4.9" fill="#404040" text-anchor="middle">50</text>
<text x="349.20" y="50.7" font-family="Liberation Sans, sans-serif" font-size="4.9" fill="#404040" text-anchor="middle">51</text>
<text x="367.00" y="50.7" font-family="Liberation Sans, sans-serif" font-size="4.9" fill="#404040" text-anchor="middle">52</text>
<text x="384.30" y="50.7" font-family="Liberation Sans, sans-serif" font-size="4.9" fill="#3a3acc" text-anchor="middle">19</text>
<text x="402.20" y="50.7" font-family="Liberation Sans, sans-serif" font-size="4.9" fill="#404040" text-anchor="middle">20</text>
<text x="420.60" y="50.7" font-family="Liberation Sans, sans-serif" font-size="4.9" fill="#404040" text-anchor="middle">45</text>
<text x="440.40" y="50.7" font-family="Liberation Sans, sans-serif" font-size="4.9" fill="#404040" text-anchor="middle">33</text>
<text x="457.00" y="50.7" font-family="Liberation Sans, sans-serif" font-size="4.9" fill="#404040" text-anchor="middle">35</text>
<text x="474.60" y="50.7" font-family="Liberation Sans, sans-serif" font-size="4.9" fill="#404040" text-anchor="middle">36</text>
<text x="492.90" y="50.7" font-family="Liberation Sans, sans-serif" font-size="4.9" fill="#404040" text-anchor="middle">22</text>
<text x="13.8" y="61.20" font-family="Liberation Sans, sans-serif" font-size="5" fill="#222222" text-anchor="middle">A1</text>
<text x="512.3" y="62.60" font-family="Liberation Sans, sans-serif" font-size="5" fill="#333333" text-anchor="middle">A1</text>
<text x="13.8" y="67.25" font-family="Liberation Sans, sans-serif" font-size="5" fill="#222222" text-anchor="middle">A2</text>
<text x="512.3" y="68.65" font-family="Liberation Sans, sans-serif" font-size="5" fill="#333333" text-anchor="middle">A2</text>
<text x="13.8" y="73.29" font-family="Liberation Sans, sans-serif" font-size="5" fill="#222222" text-anchor="middle">A3</text>
<text x="512.3" y="74.70" font-family="Liberation Sans, sans-serif" font-size="5" fill="#333333" text-anchor="middle">A3</text>
<text x="13.8" y="79.34" font-family="Liberation Sans, sans-serif" font-size="5" fill="#222222" text-anchor="middle">A4</text>
<text x="512.3" y="80.75" font-family="Liberation Sans, sans-serif" font-size="5" fill="#333333" text-anchor="middle">A4</text>
<text x="13.8" y="85.38" font-family="Liberation Sans, sans-serif" font-size="5" fill="#222222" text-anchor="middle">A5</text>
<text x="512.3" y="86.80" font-family="Liberation Sans, sans-serif" font-size="5" fill="#333333" text-anchor="middle">A5</text>
<text x="13.8" y="91.43" font-family="Liberation Sans, sans-serif" font-size="5" fill="#222222" text-anchor="middle">A6</text>
<text x="512.3" y="92.85" font-family="Liberation Sans, sans-serif" font-size="5" fill="#333333" text-anchor="middle">A6</text>
<text x="13.8" y="97.48" font-family="Liberation Sans, sans-serif" font-size="5" fill="#222222" text-anchor="middle">A7</text>
<text x="512.3" y="98.90" font-family="Liberation Sans, sans-serif" font-size="5" fill="#333333" text-anchor="middle">A7</text>
<text x="13.8" y="103.52" font-family="Liberation Sans, sans-serif" font-size="5" fill="#222222" text-anchor="middle">A9</text>
<text x="512.3" y="104.95" font-family="Liberation Sans, sans-serif" font-size="5" fill="#333333" text-anchor="middle">A9</text>
<text x="13.8" y="109.57" font-family="Liberation Sans, sans-serif" font-size="5" fill="#222222" text-anchor="middle">A10</text>
<text x="512.3" y="111.00" font-family="Liberation Sans, sans-serif" font-size="5" fill="#333333" text-anchor="middle">A10</text>
<text x="13.8" y="115.61" font-family="Liberation Sans, sans-serif" font-size="5" fill="#222222" text-anchor="middle">A11</text>
<text x="512.3" y="117.05" font-family="Liberation Sans, sans-serif" font-size="5" fill="#333333" text-anchor="middle">A11</text>
<text x="13.8" y="121.66" font-family="Liberation Sans, sans-serif" font-size="5" fill="#222222" text-anchor="middle">A13</text>
<text x="512.3" y="123.10" font-family="Liberation Sans, sans-serif" font-size="5" fill="#333333" text-anchor="middle">A13</text>
<text x="13.8" y="127.71" font-family="Liberation Sans, sans-serif" font-size="5" fill="#222222" text-anchor="middle">B1</text>
<text x="512.3" y="129.15" font-family="Liberation Sans, sans-serif" font-size="5" fill="#333333" text-anchor="middle">B1</text>
<text x="13.8" y="133.75" font-family="Liberation Sans, sans-serif" font-size="5" fill="#222222" text-anchor="middle">B2</text>
<text x="512.3" y="135.20" font-family="Liberation Sans, sans-serif" font-size="5" fill="#333333" text-anchor="middle">B2</text>
<text x="13.8" y="139.80" font-family="Liberation Sans, sans-serif" font-size="5" fill="#222222" text-anchor="middle">B3</text>
<text x="512.3" y="141.25" font-family="Liberation Sans, sans-serif" font-size="5" fill="#333333" text-anchor="middle">B3</text>
<text x="13.8" y="145.84" font-family="Liberation Sans, sans-serif" font-size="5" fill="#222222" text-anchor="middle">B4</text>
<text x="512.3" y="147.30" font-family="Liberation Sans, sans-serif" font-size="5" fill="#333333" text-anchor="middle">B4</text>
<text x="13.8" y="151.89" font-family="Liberation Sans, sans-serif" font-size="5" fill="#222222" text-anchor="middle">B5</text>
<text x="512.3" y="153.35" font-family="Liberation Sans, sans-serif" font-size="5" fill="#333333" text-anchor="middle">B5</text>
<text x="13.8" y="157.94" font-family="Liberation Sans, sans-serif" font-size="5" fill="#222222" text-anchor="middle">B6</text>
<text x="512.3" y="159.40" font-family="Liberation Sans, sans-serif" font-size="5" fill="#333333" text-anchor="middle">B6</text>
<text x="13.8" y="163.98" font-family="Liberation Sans, sans-serif" font-size="5" fill="#222222" text-anchor="middle">B7</text>
<text x="512.3" y="165.45" font-family="Liberation Sans, sans-serif" font-size="5" fill="#333333" text-anchor="middle">B7</text>
<text x="13.8" y="170.03" font-family="Liberation Sans, sans-serif" font-size="5" fill="#222222" text-anchor="middle">B8</text>
<text x="512.3" y="171.50" font-family="Liberation Sans, sans-serif" font-size="5" fill="#333333" text-anchor="middle">B8</text>
<text x="13.8" y="176.07" font-family="Liberation Sans, sans-serif" font-size="5" fill="#222222" text-anchor="middle">B9</text>
<text x="512.3" y="177.55" font-family="Liberation Sans, sans-serif" font-size="5" fill="#333333" text-anchor="middle">B9</text>
<text x="13.8" y="182.12" font-family="Liberation Sans, sans-serif" font-size="5" fill="#222222" text-anchor="middle">B13</text>
<text x="512.3" y="183.60" font-family="Liberation Sans, sans-serif" font-size="5" fill="#333333" text-anchor="middle">B13</text>
<text x="13.8" y="188.17" font-family="Liberation Sans, sans-serif" font-size="5" fill="#222222" text-anchor="middle">C4</text>
<text x="512.3" y="189.65" font-family="Liberation Sans, sans-serif" font-size="5" fill="#333333" text-anchor="middle">C4</text>
<text x="13.8" y="194.21" font-family="Liberation Sans, sans-serif" font-size="5" fill="#222222" text-anchor="middle">C5</text>
<text x="512.3" y="195.70" font-family="Liberation Sans, sans-serif" font-size="5" fill="#333333" text-anchor="middle">C5</text>
<text x="13.8" y="200.26" font-family="Liberation Sans, sans-serif" font-size="5" fill="#222222" text-anchor="middle">C6</text>
<text x="512.3" y="201.75" font-family="Liberation Sans, sans-serif" font-size="5" fill="#333333" text-anchor="middle">C6</text>
<text x="13.8" y="206.30" font-family="Liberation Sans, sans-serif" font-size="5" fill="#222222" text-anchor="middle">C8</text>
<text x="512.3" y="207.80" font-family="Liberation Sans, sans-serif" font-size="5" fill="#333333" text-anchor="middle">C8</text>
<text x="13.8" y="212.35" font-family="Liberation Sans, sans-serif" font-size="5" fill="#222222" text-anchor="middle">C9</text>
<text x="512.3" y="213.85" font-family="Liberation Sans, sans-serif" font-size="5" fill="#333333" text-anchor="middle">C9</text>
<text x="13.8" y="218.40" font-family="Liberation Sans, sans-serif" font-size="5" fill="#222222" text-anchor="middle">C10</text>
<text x="512.3" y="219.90" font-family="Liberation Sans, sans-serif" font-size="5" fill="#333333" text-anchor="middle">C10</text>
<text x="13.8" y="224.44" font-family="Liberation Sans, sans-serif" font-size="5" fill="#222222" text-anchor="middle">C11</text>
<text x="512.3" y="225.95" font-family="Liberation Sans, sans-serif" font-size="5" fill="#333333" text-anchor="middle">C11</text>
<text x="13.8" y="230.49" font-family="Liberation Sans, sans-serif" font-size="5" fill="#222222" text-anchor="middle">C12</text>
<text x="512.3" y="232.00" font-family="Liberation Sans, sans-serif" font-size="5" fill="#333333" text-anchor="middle">C12</text>
<text x="13.8" y="236.53" font-family="Liberation Sans, sans-serif" font-size="5" fill="#222222" text-anchor="middle">C13</text>
<text x="512.3" y="238.05" font-family="Liberation Sans, sans-serif" font-size="5" fill="#333333" text-anchor="middle">C13</text>
<text x="13.8" y="242.58" font-family="Liberation Sans, sans-serif" font-size="5" fill="#222222" text-anchor="middle">D1</text>
<text x="512.3" y="244.10" font-family="Liberation Sans, sans-serif" font-size="5" fill="#333333" text-anchor="middle">D1</text>
<text x="13.8" y="248.63" font-family="Liberation Sans, sans-serif" font-size="5" fill="#222222" text-anchor="middle">D3</text>
<text x="512.3" y="250.15" font-family="Liberation Sans, sans-serif" font-size="5" fill="#333333" text-anchor="middle">D3</text>
<text x="13.8" y="254.67" font-family="Liberation Sans, sans-serif" font-size="5" fill="#222222" text-anchor="middle">D4</text>
<text x="512.3" y="256.20" font-family="Liberation Sans, sans-serif" font-size="5" fill="#333333" text-anchor="middle">D4</text>
<text x="13.8" y="260.72" font-family="Liberation Sans, sans-serif" font-size="5" fill="#222222" text-anchor="middle">D8</text>
<text x="512.3" y="262.25" font-family="Liberation Sans, sans-serif" font-size="5" fill="#333333" text-anchor="middle">D8</text>
<text x="13.8" y="266.76" font-family="Liberation Sans, sans-serif" font-size="5" fill="#222222" text-anchor="middle">D9</text>
<text x="512.3" y="268.30" font-family="Liberation Sans, sans-serif" font-size="5" fill="#333333" text-anchor="middle">D9</text>
<text x="13.8" y="272.81" font-family="Liberation Sans, sans-serif" font-size="5" fill="#222222" text-anchor="middle">D10</text>
<text x="512.3" y="274.35" font-family="Liberation Sans, sans-serif" font-size="5" fill="#333333" text-anchor="middle">D10</text>
<text x="13.8" y="278.86" font-family="Liberation Sans, sans-serif" font-size="5" fill="#222222" text-anchor="middle">D11</text>
<text x="512.3" y="280.40" font-family="Liberation Sans, sans-serif" font-size="5" fill="#333333" text-anchor="middle">D11</text>
<text x="13.8" y="284.90" font-family="Liberation Sans, sans-serif" font-size="5" fill="#222222" text-anchor="middle">D12</text>
<text x="512.3" y="286.45" font-family="Liberation Sans, sans-serif" font-size="5" fill="#333333" text-anchor="middle">D12</text>
<text x="13.8" y="290.95" font-family="Liberation Sans, sans-serif" font-size="5" fill="#222222" text-anchor="middle">D13</text>
<text x="512.3" y="292.50" font-family="Liberation Sans, sans-serif" font-size="5" fill="#333333" text-anchor="middle">D13</text>
<text x="13.8" y="296.99" font-family="Liberation Sans, sans-serif" font-size="5" fill="#222222" text-anchor="middle">PBX1</text>
<text x="512.3" y="298.55" font-family="Liberation Sans, sans-serif" font-size="5" fill="#333333" text-anchor="middle">PBX1</text>
<text x="13.8" y="303.04" font-family="Liberation Sans, sans-serif" font-size="5" fill="#222222" text-anchor="middle">PBX2</text>
<text x="512.3" y="304.60" font-family="Liberation Sans, sans-serif" font-size="5" fill="#333333" text-anchor="middle">PBX2</text>
<text x="13.8" y="309.09" font-family="Liberation Sans, sans-serif" font-size="5" fill="#222222" text-anchor="middle">PBX3</text>
<text x="512.3" y="310.65" font-family="Liberation Sans, sans-serif" font-size="5" fill="#333333" text-anchor="middle">PBX3</text>
<text x="13.8" y="315.13" font-family="Liberation Sans, sans-serif" font-size="5" fill="#222222" text-anchor="middle">MEIS1</text>
<text x="512.3" y="316.70" font-family="Liberation Sans, sans-serif" font-size="5" fill="#333333" text-anchor="middle">MEIS1</text>
<text x="13.8" y="321.18" font-family="Liberation Sans, sans-serif" font-size="5" fill="#222222" text-anchor="middle">MEIS2</text>
<text x="512.3" y="322.75" font-family="Liberation Sans, sans-serif" font-size="5" fill="#333333" text-anchor="middle">MEIS2</text>
<text x="13.8" y="327.22" font-family="Liberation Sans, sans-serif" font-size="5" fill="#222222" text-anchor="middle">MEIS3</text>
<text x="512.3" y="328.80" font-family="Liberation Sans, sans-serif" font-size="5" fill="#333333" text-anchor="middle">MEIS3</text>
<text x="13.8" y="333.27" font-family="Liberation Sans, sans-serif" font-size="5" fill="#222222" text-anchor="middle">PREP1</text>
<text x="512.3" y="334.85" font-family="Liberation Sans, sans-serif" font-size="5" fill="#333333" text-anchor="middle">PREP1</text>
<text x="13.8" y="339.32" font-family="Liberation Sans, sans-serif" font-size="5" fill="#222222" text-anchor="middle">PREP2</text>
<text x="512.3" y="340.90" font-family="Liberation Sans, sans-serif" font-size="5" fill="#333333" text-anchor="middle">PREP2</text>
<text x="0" y="358.6" font-family="Liberation Sans, sans-serif" font-size="5.7" fill="#000000" stroke="#000000" stroke-width="0.12">Column no.</text>
<text x="33.7" y="358.7" font-family="Liberation Sans, sans-serif" font-size="5.7" fill="#111111" text-anchor="middle">1</text>
<text x="51.5" y="358.7" font-family="Liberation Sans, sans-serif" font-size="5.7" fill="#111111" text-anchor="middle">2</text>
<text x="72.8" y="358.7" font-family="Liberation Sans, sans-serif" font-size="5.7" fill="#111111" text-anchor="middle">3</text>
<text x="91" y="358.7" font-family="Liberation Sans, sans-serif" font-size="5.7" fill="#111111" text-anchor="middle">4</text>
<text x="108.5" y="358.7" font-family="Liberation Sans, sans-serif" font-size="5.7" fill="#111111" text-anchor="middle">5</text>
<text x="126" y="358.7" font-family="Liberation Sans, sans-serif" font-size="5.7" fill="#111111" text-anchor="middle">6</text>
<text x="146" y="358.7" font-family="Liberation Sans, sans-serif" font-size="5.7" fill="#111111" text-anchor="middle">7</text>
<text x="163.5" y="358.7" font-family="Liberation Sans, sans-serif" font-size="5.7" fill="#111111" text-anchor="middle">8</text>
<text x="181.5" y="358.7" font-family="Liberation Sans, sans-serif" font-size="5.7" fill="#111111" text-anchor="middle">9</text>
<text x="200" y="358.7" font-family="Liberation Sans, sans-serif" font-size="5.7" fill="#111111" text-anchor="middle">10</text>
<text x="218.5" y="358.7" font-family="Liberation Sans, sans-serif" font-size="5.7" fill="#111111" text-anchor="middle">11</text>
<text x="237.5" y="358.7" font-family="Liberation Sans, sans-serif" font-size="5.7" fill="#111111" text-anchor="middle">12</text>
<text x="255" y="358.7" font-family="Liberation Sans, sans-serif" font-size="5.7" fill="#111111" text-anchor="middle">13</text>
<text x="274" y="358.7" font-family="Liberation Sans, sans-serif" font-size="5.7" fill="#111111" text-anchor="middle">14</text>
<text x="291" y="358.7" font-family="Liberation Sans, sans-serif" font-size="5.7" fill="#111111" text-anchor="middle">15</text>
<text x="308.5" y="358.7" font-family="Liberation Sans, sans-serif" font-size="5.7" fill="#111111" text-anchor="middle">16</text>
<text x="327" y="358.7" font-family="Liberation Sans, sans-serif" font-size="5.7" fill="#111111" text-anchor="middle">17</text>
<text x="344" y="358.7" font-family="Liberation Sans, sans-serif" font-size="5.7" fill="#111111" text-anchor="middle">18</text>
<text x="362.5" y="358.7" font-family="Liberation Sans, sans-serif" font-size="5.7" fill="#111111" text-anchor="middle">19</text>
<text x="380.5" y="358.7" font-family="Liberation Sans, sans-serif" font-size="5.7" fill="#111111" text-anchor="middle">20</text>
<text x="401" y="358.7" font-family="Liberation Sans, sans-serif" font-size="5.7" fill="#111111" text-anchor="middle">21</text>
<text x="420" y="358.7" font-family="Liberation Sans, sans-serif" font-size="5.7" fill="#111111" text-anchor="middle">22</text>
<text x="437" y="358.7" font-family="Liberation Sans, sans-serif" font-size="5.7" fill="#111111" text-anchor="middle">23</text>
<text x="456" y="358.7" font-family="Liberation Sans, sans-serif" font-size="5.7" fill="#111111" text-anchor="middle">24</text>
<text x="473" y="358.7" font-family="Liberation Sans, sans-serif" font-size="5.7" fill="#111111" text-anchor="middle">25</text>
<text x="491.5" y="358.7" font-family="Liberation Sans, sans-serif" font-size="5.7" fill="#111111" text-anchor="middle">26</text>
<defs><linearGradient id="cb" x1="0" x2="1" y1="0" y2="0"><stop offset="0" stop-color="#0050ff"/><stop offset="0.12" stop-color="#00a0ff"/><stop offset="0.24" stop-color="#00ebff"/><stop offset="0.36" stop-color="#00f0c8"/><stop offset="0.44" stop-color="#0af082"/><stop offset="0.52" stop-color="#14f01e"/><stop offset="0.64" stop-color="#82f000"/><stop offset="0.71" stop-color="#c8e600"/><stop offset="0.76" stop-color="#f0c800"/><stop offset="0.84" stop-color="#fa9600"/><stop offset="0.91" stop-color="#fa5a00"/><stop offset="1" stop-color="#f0141e"/></linearGradient></defs>
<rect x="71.8" y="366.2" width="39.5" height="8.7" fill="#1212e0"/>
<rect x="111.3" y="366.2" width="327.3" height="8.7" fill="url(#cb)"/>
<text x="72.7" y="383.5" font-family="Liberation Sans, sans-serif" font-size="7.8" fill="#1a1a1a">-0.5</text>
<text x="439.4" y="383.5" font-family="Liberation Sans, sans-serif" font-size="7.8" fill="#1a1a1a" text-anchor="end">0.5</text>
<text x="219" y="382.7" font-family="Liberation Sans, sans-serif" font-size="7.3" fill="#3a3a3a">Log</text>
<text x="232.0" y="387.9" font-family="Liberation Sans, sans-serif" font-size="5.6" fill="#3a3a3a">10</text>
<text x="239.8" y="382.7" font-family="Liberation Sans, sans-serif" font-size="7.3" fill="#3a3a3a">(cn)</text>
</svg>
</body></html>
